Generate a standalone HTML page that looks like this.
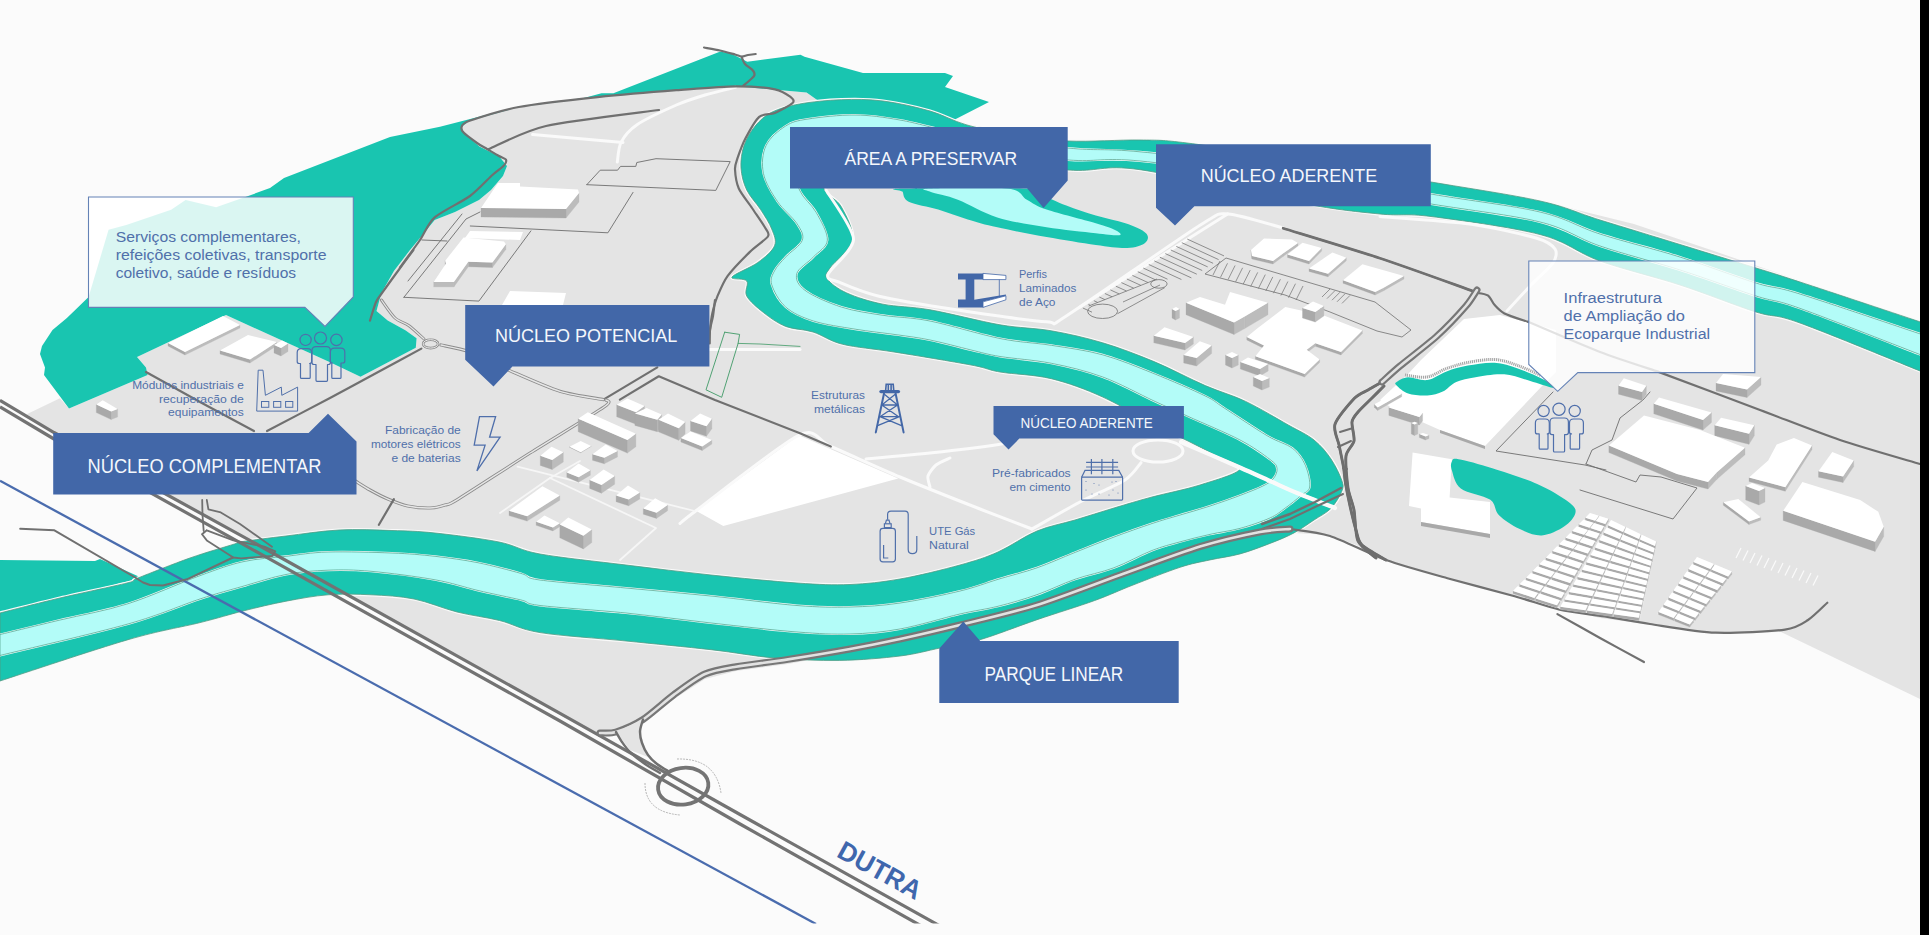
<!DOCTYPE html>
<html><head><meta charset="utf-8"><style>
html,body{margin:0;padding:0;background:#fbfbfb;overflow:hidden}
svg{display:block;font-family:"Liberation Sans",sans-serif}
</style></head><body>
<svg width="1929" height="935" viewBox="0 0 1929 935">
<defs><clipPath id="clipb"><rect x="0" y="0" width="1929" height="923.5"/></clipPath></defs>
<rect x="0" y="0" width="1929" height="935" fill="#fbfbfb"/>
<path d="M26.7,414.2 L59.9,398.2 L69,408.6 L147.6,375 L146,367.5 L137,357 L226,315 L330,362.3 L360.5,376.7 L415.8,347.8 L416.6,338.2 L405.4,330.2 L387.7,320.6 L376.5,311 L381.3,293.3 L394.1,270.8 L410,250 L420,238 L434.7,220 L455,212 L479,200 L491,190 L503,176 L507,166 L499.1,156.2 L479.4,146.4 L463.6,132.6 L461.7,126.7 L469.6,120.8 L518.8,107 L597.6,97.1 L676.4,90.2 L735.5,86.3 L778.4,89.9 L806.6,92.5 L818.6,101 L816,102 L870,108 L966,124 L1068,143 L1156,141 L1300,160 L1430,182 L1553,204 L1634,224 L1714,251 L1821,288 L1920,322 L1920,699 L1781,632 L1715,633 L1600,618 L1514.7,596.2 L1447.4,578.2 L1386,560 L1356,545 L1330,535 L1294,533 L1240,554 L1200,560 L1133,585 L1037,620 L979,636 L964,629 L900,643 L788,664 L736,671 L705,679 L674,699 L643,723 L616.5,734 L596,732.6 L560,712.5 L260,546 L54,432.5 Z" fill="#e4e4e4"/>
<path d="M69,408.6 L44,375 L45,367.5 L40,354 L42,346 L52.5,330 L66.9,318 L88.6,297.1 L108.6,229.7 L126.3,225 L171.2,209.7 L185.6,200 L216.1,207.3 L248.2,196 L270,188 L284,178 L390,137 L440,126.7 L518.8,106.5 L583.8,98 L601.5,93.2 L613.4,93.2 L719.7,51.8 L729.6,52.8 L747.3,61.7 L800.5,54.8 L804.5,56.7 L863,73 L945,73 L953,76 L945,87 L989,102 L950,122 L930,111 L883,101 L841,100 L818.6,101 L806.6,92.5 L778.4,89.9 L735.5,86.3 L676.4,90.2 L597.6,97.1 L518.8,107 L469.6,120.8 L461.7,126.7 L463.6,132.6 L479.4,146.4 L499.1,156.2 L507,166 L503,176 L491,190 L479,200 L455,212 L434.7,220 L420,238 L410,250 L394.1,270.8 L381.3,293.3 L376.5,311 L387.7,320.6 L405.4,330.2 L416.6,338.2 L415.8,347.8 L360.5,376.7 L330,362.3 L226,315 L137,357 L146,367.5 L147.6,375 Z" fill="#19c5b0"/>
<path d="M0,560 L95,561 L100,559 L142,578 L60,598 L0,613 Z" fill="#19c5b0"/>
<path d="M0,613 C10,610.5 38.8,603 60,598 C81.2,593 114,586.3 127,583 C140,579.7 127.5,582.2 138,578 C148.5,573.8 173.9,563.7 190,558 C206.1,552.3 225.7,546.8 234.5,544 C243.3,541.2 234.4,542.8 243,541.5 C251.6,540.2 270,537.9 286,536 C302,534.1 321.3,530.9 339,530 C356.7,529.1 376,530 392,530.5 C408,531 417.2,531.1 435,533 C452.8,534.9 481.5,538.5 499,542 C516.5,545.5 518.8,550.2 540,554 C561.2,557.8 597.5,561.5 626,565 C654.5,568.5 682.5,572 711,575 C739.5,578 773.8,581.4 797,583 C820.2,584.6 832.8,585.2 850,584.5 C867.2,583.8 881.7,582.2 900,579 C918.3,575.8 943.7,569.5 960,565 C976.3,560.5 985.2,557.7 998,552 C1010.8,546.3 1024.2,536.3 1037,531 C1049.8,525.7 1062.2,523.8 1075,520 C1087.8,516.2 1101.2,511.8 1114,508 C1126.8,504.2 1137.7,500.8 1152,497 C1166.3,493.2 1185.3,489.7 1200,485 C1214.7,480.3 1237.5,474 1240,469 C1242.5,464 1223.7,459.7 1215,455 C1206.3,450.3 1197.2,445.5 1188,441 C1178.8,436.5 1174.2,435.3 1160,428 C1145.8,420.7 1120.8,405.2 1102.7,397 C1084.6,388.8 1068.4,382.9 1051.3,378.7 C1034.2,374.5 1013.4,374.3 1000,372 C986.6,369.7 988.7,368.3 971,365 C953.3,361.7 915.4,355.4 894,352 C872.6,348.6 856.2,347.6 842.7,344.3 C829.2,341 822.5,335 813,332 C803.5,329 793.9,329.6 785.6,326.4 C777.3,323.1 769.9,317.6 763.4,312.5 C756.9,307.4 749.5,301.2 746.7,296 C743.9,290.8 749.2,284.2 746.7,281 C744.2,277.8 730.1,280.1 732,277 C733.9,273.9 750.7,267.7 757.8,262.5 C764.9,257.3 772.2,251.4 774.5,245.8 C776.8,240.2 774,235 771.7,229 C769.4,223 764.8,216.1 760.6,209.6 C756.4,203.1 750,196.9 746.7,190 C743.4,183.1 741.5,175.4 741,168 C740.5,160.6 741.7,152.6 744,145.6 C746.3,138.6 750.4,131.8 755,126.2 C759.6,120.7 764.3,116 771.7,112.3 C779.1,108.6 787.9,106.1 799.5,104 C811.1,101.9 827.4,100.2 841.3,99.7 C855.2,99.2 868.2,99.1 883,101 C897.8,102.9 916.2,107 930,111 C943.8,115 952.7,120.9 966,124.7 C979.3,128.5 993,131.3 1010,134 C1027,136.7 1046.3,140 1068,141 C1089.7,142 1120.2,139.7 1140,140 C1159.8,140.3 1160.3,139.7 1187,143 C1213.7,146.3 1259.3,153.5 1300,160 C1340.7,166.5 1391,175.2 1431,182 C1471,188.8 1511.8,194.7 1540,201 C1568.2,207.3 1576.7,212.8 1600,220 C1623.3,227.2 1654,236.5 1680,244.5 C1706,252.5 1736,261.8 1756,268 C1776,274.2 1771.8,272.8 1800,282 C1828.2,291.2 1904.2,316.6 1925,323.5 L1925,373 C1904.2,364.7 1828.2,333.2 1800,323 C1771.8,312.8 1776,318.3 1756,312 C1736,305.7 1706,293.5 1680,285 C1654,276.5 1623.3,269.4 1600,261 C1576.7,252.6 1568.2,241.9 1540,234.5 C1511.8,227.1 1457.7,219.9 1431,216.5 C1404.3,213.1 1401.8,216.2 1380,214 C1358.2,211.8 1340,210.4 1300,203 C1260,195.6 1178.7,175.2 1140,169.7 C1101.3,164.2 1098,172.4 1068,170 C1038,167.6 993,160 960,155 C927,150 891.7,141.7 870,140 C848.3,138.3 838.7,141.7 830,145 C821.3,148.3 818.9,152.5 818,160 C817.1,167.5 820.7,182.2 824.6,190 C828.5,197.8 836.7,198.4 841.3,206.8 C845.9,215.2 854.3,230 852.4,240.2 C850.5,250.4 834.2,261.5 830,268 C825.8,274.5 824.6,274.8 827.4,279 C830.2,283.2 837.5,288.8 846.8,293 C856.1,297.2 869.1,301.4 883,304.2 C896.9,307 910.5,306.4 930,309.8 C949.5,313.2 979.8,321.3 1000,324.8 C1020.2,328.3 1034.2,327.8 1051.3,330.8 C1068.4,333.8 1085.6,337.7 1102.7,342.8 C1119.8,347.9 1136.9,354.5 1154,361.6 C1171.1,368.7 1190,379 1205.3,385.6 C1220.6,392.2 1231.8,394.8 1245.6,401.4 C1259.4,408 1276.9,418.6 1288.3,425 C1299.7,431.4 1306.9,434.3 1314,440 C1321.1,445.7 1326.4,452.2 1331,459 C1335.6,465.8 1340,475.1 1341.8,480.5 C1343.6,485.9 1343.6,486.6 1341.8,491.2 C1340,495.8 1335.6,503.5 1331,508.3 C1326.4,513.1 1320.2,515.9 1314,520 C1307.8,524.1 1301.3,529 1294,532.9 C1286.7,536.8 1279,539.9 1270,543.4 C1261,546.9 1250,551.1 1240,553.9 C1230,556.6 1220,557.7 1210,559.9 C1200,562.1 1192.8,563.1 1180,567.3 C1167.2,571.5 1147.2,579.5 1133,585 C1118.8,590.5 1110.7,594.7 1094.7,600.5 C1078.7,606.3 1056.3,613.1 1037,619.7 C1017.7,626.3 995.2,635.3 979,640 C962.8,644.7 953.2,645.3 940,648 C926.8,650.7 916.8,653.9 900,656 C883.2,658.1 860.3,660.1 839.5,660.4 C818.7,660.7 796.4,659.8 775,658 C753.6,656.2 735.8,652.5 711,649.7 C686.2,646.9 654.5,643.9 626,641 C597.5,638.1 561.1,636 540,632.6 C518.9,629.2 513.3,623.9 499.5,620.5 C485.7,617.1 471.2,615.6 457,612 C442.8,608.4 428.3,601.9 414,599 C399.7,596.1 385.3,595.5 371,594.8 C356.7,594.1 342.2,593.7 328,594.8 C313.8,595.9 300.2,598.5 286,601.2 C271.8,603.9 257.3,607.4 243,611 C228.7,614.6 219.2,617.8 200,622.6 C180.8,627.4 161.3,630 128,639.7 C94.7,649.4 21.3,674.1 0,681 Z" fill="none" stroke="#fafafa" stroke-width="3.2"/>
<path d="M0,613 C10,610.5 38.8,603 60,598 C81.2,593 114,586.3 127,583 C140,579.7 127.5,582.2 138,578 C148.5,573.8 173.9,563.7 190,558 C206.1,552.3 225.7,546.8 234.5,544 C243.3,541.2 234.4,542.8 243,541.5 C251.6,540.2 270,537.9 286,536 C302,534.1 321.3,530.9 339,530 C356.7,529.1 376,530 392,530.5 C408,531 417.2,531.1 435,533 C452.8,534.9 481.5,538.5 499,542 C516.5,545.5 518.8,550.2 540,554 C561.2,557.8 597.5,561.5 626,565 C654.5,568.5 682.5,572 711,575 C739.5,578 773.8,581.4 797,583 C820.2,584.6 832.8,585.2 850,584.5 C867.2,583.8 881.7,582.2 900,579 C918.3,575.8 943.7,569.5 960,565 C976.3,560.5 985.2,557.7 998,552 C1010.8,546.3 1024.2,536.3 1037,531 C1049.8,525.7 1062.2,523.8 1075,520 C1087.8,516.2 1101.2,511.8 1114,508 C1126.8,504.2 1137.7,500.8 1152,497 C1166.3,493.2 1185.3,489.7 1200,485 C1214.7,480.3 1237.5,474 1240,469 C1242.5,464 1223.7,459.7 1215,455 C1206.3,450.3 1197.2,445.5 1188,441 C1178.8,436.5 1174.2,435.3 1160,428 C1145.8,420.7 1120.8,405.2 1102.7,397 C1084.6,388.8 1068.4,382.9 1051.3,378.7 C1034.2,374.5 1013.4,374.3 1000,372 C986.6,369.7 988.7,368.3 971,365 C953.3,361.7 915.4,355.4 894,352 C872.6,348.6 856.2,347.6 842.7,344.3 C829.2,341 822.5,335 813,332 C803.5,329 793.9,329.6 785.6,326.4 C777.3,323.1 769.9,317.6 763.4,312.5 C756.9,307.4 749.5,301.2 746.7,296 C743.9,290.8 749.2,284.2 746.7,281 C744.2,277.8 730.1,280.1 732,277 C733.9,273.9 750.7,267.7 757.8,262.5 C764.9,257.3 772.2,251.4 774.5,245.8 C776.8,240.2 774,235 771.7,229 C769.4,223 764.8,216.1 760.6,209.6 C756.4,203.1 750,196.9 746.7,190 C743.4,183.1 741.5,175.4 741,168 C740.5,160.6 741.7,152.6 744,145.6 C746.3,138.6 750.4,131.8 755,126.2 C759.6,120.7 764.3,116 771.7,112.3 C779.1,108.6 787.9,106.1 799.5,104 C811.1,101.9 827.4,100.2 841.3,99.7 C855.2,99.2 868.2,99.1 883,101 C897.8,102.9 916.2,107 930,111 C943.8,115 952.7,120.9 966,124.7 C979.3,128.5 993,131.3 1010,134 C1027,136.7 1046.3,140 1068,141 C1089.7,142 1120.2,139.7 1140,140 C1159.8,140.3 1160.3,139.7 1187,143 C1213.7,146.3 1259.3,153.5 1300,160 C1340.7,166.5 1391,175.2 1431,182 C1471,188.8 1511.8,194.7 1540,201 C1568.2,207.3 1576.7,212.8 1600,220 C1623.3,227.2 1654,236.5 1680,244.5 C1706,252.5 1736,261.8 1756,268 C1776,274.2 1771.8,272.8 1800,282 C1828.2,291.2 1904.2,316.6 1925,323.5 L1925,373 C1904.2,364.7 1828.2,333.2 1800,323 C1771.8,312.8 1776,318.3 1756,312 C1736,305.7 1706,293.5 1680,285 C1654,276.5 1623.3,269.4 1600,261 C1576.7,252.6 1568.2,241.9 1540,234.5 C1511.8,227.1 1457.7,219.9 1431,216.5 C1404.3,213.1 1401.8,216.2 1380,214 C1358.2,211.8 1340,210.4 1300,203 C1260,195.6 1178.7,175.2 1140,169.7 C1101.3,164.2 1098,172.4 1068,170 C1038,167.6 993,160 960,155 C927,150 891.7,141.7 870,140 C848.3,138.3 838.7,141.7 830,145 C821.3,148.3 818.9,152.5 818,160 C817.1,167.5 820.7,182.2 824.6,190 C828.5,197.8 836.7,198.4 841.3,206.8 C845.9,215.2 854.3,230 852.4,240.2 C850.5,250.4 834.2,261.5 830,268 C825.8,274.5 824.6,274.8 827.4,279 C830.2,283.2 837.5,288.8 846.8,293 C856.1,297.2 869.1,301.4 883,304.2 C896.9,307 910.5,306.4 930,309.8 C949.5,313.2 979.8,321.3 1000,324.8 C1020.2,328.3 1034.2,327.8 1051.3,330.8 C1068.4,333.8 1085.6,337.7 1102.7,342.8 C1119.8,347.9 1136.9,354.5 1154,361.6 C1171.1,368.7 1190,379 1205.3,385.6 C1220.6,392.2 1231.8,394.8 1245.6,401.4 C1259.4,408 1276.9,418.6 1288.3,425 C1299.7,431.4 1306.9,434.3 1314,440 C1321.1,445.7 1326.4,452.2 1331,459 C1335.6,465.8 1340,475.1 1341.8,480.5 C1343.6,485.9 1343.6,486.6 1341.8,491.2 C1340,495.8 1335.6,503.5 1331,508.3 C1326.4,513.1 1320.2,515.9 1314,520 C1307.8,524.1 1301.3,529 1294,532.9 C1286.7,536.8 1279,539.9 1270,543.4 C1261,546.9 1250,551.1 1240,553.9 C1230,556.6 1220,557.7 1210,559.9 C1200,562.1 1192.8,563.1 1180,567.3 C1167.2,571.5 1147.2,579.5 1133,585 C1118.8,590.5 1110.7,594.7 1094.7,600.5 C1078.7,606.3 1056.3,613.1 1037,619.7 C1017.7,626.3 995.2,635.3 979,640 C962.8,644.7 953.2,645.3 940,648 C926.8,650.7 916.8,653.9 900,656 C883.2,658.1 860.3,660.1 839.5,660.4 C818.7,660.7 796.4,659.8 775,658 C753.6,656.2 735.8,652.5 711,649.7 C686.2,646.9 654.5,643.9 626,641 C597.5,638.1 561.1,636 540,632.6 C518.9,629.2 513.3,623.9 499.5,620.5 C485.7,617.1 471.2,615.6 457,612 C442.8,608.4 428.3,601.9 414,599 C399.7,596.1 385.3,595.5 371,594.8 C356.7,594.1 342.2,593.7 328,594.8 C313.8,595.9 300.2,598.5 286,601.2 C271.8,603.9 257.3,607.4 243,611 C228.7,614.6 219.2,617.8 200,622.6 C180.8,627.4 161.3,630 128,639.7 C94.7,649.4 21.3,674.1 0,681 Z" fill="#19c5b0" stroke="#4f9c84" stroke-width="0.8"/>
<path d="M0,634.5 C10,632.1 38.7,625.1 60,620 C81.3,614.9 104.7,611.1 128,603.7 C151.3,596.3 180.8,582.6 200,575.6 C219.2,568.6 228.7,564.9 243,561.7 C257.3,558.5 271.8,557.9 286,556.3 C300.2,554.7 310.3,552.5 328,552 C345.7,551.5 374.2,552.3 392,553 C409.8,553.7 420.7,554.7 435,556.3 C449.3,557.9 463.7,559.9 478,562.7 C492.3,565.6 510.7,570.5 521,573.4 C531.3,576.3 522.5,577.6 540,580 C557.5,582.4 597.5,585.3 626,588 C654.5,590.7 682.5,593.1 711,596 C739.5,598.9 773.8,603.7 797,605.5 C820.2,607.3 832.8,607.4 850,607 C867.2,606.6 881.7,605.7 900,603 C918.3,600.3 943.7,595 960,591 C976.3,587 985.2,583.2 998,579.3 C1010.8,575.4 1024.2,572.3 1037,567.8 C1049.8,563.3 1062.2,557.5 1075,552.4 C1087.8,547.3 1101.2,541.8 1114,537 C1126.8,532.2 1141,527.2 1152,523.5 C1163,519.8 1170.3,517.9 1180,515 C1189.7,512.1 1200,509.3 1210,506 C1220,502.7 1231.3,498.7 1240,495.4 C1248.7,492.1 1256.5,489.1 1262,486.4 C1267.5,483.7 1270.5,482 1273,479 C1275.5,476 1277.5,471.8 1277,468.5 C1276.5,465.2 1276.2,464.2 1270,459.5 C1263.8,454.8 1253.7,447.2 1240,440 C1226.3,432.8 1202.3,422.9 1188,416.4 C1173.7,409.9 1168.2,407.6 1154,401 C1139.8,394.4 1119.8,383.3 1102.7,377 C1085.6,370.7 1068.4,366.7 1051.3,363.3 C1034.2,359.9 1013.4,358.7 1000,356.5 C986.6,354.3 982.7,352.8 971,350 C959.3,347.2 942.3,342.5 930,340 C917.7,337.5 909.5,336.6 897,334.8 C884.5,333 869.1,331.5 855.2,329.2 C841.3,326.9 825,324.7 813.4,321 C801.8,317.3 792.5,313.1 785.6,307 C778.7,300.9 773.6,290.7 771.7,284.7 C769.9,278.7 772.2,275.4 774.5,270.8 C776.8,266.2 781,262.1 785.6,257 C790.2,251.9 800.4,245.8 802.3,240.2 C804.2,234.6 801,230 796.8,223.5 C792.6,217 782.9,209.7 777.3,201.3 C771.7,193 765.3,182.7 763.4,173.4 C761.5,164.1 762.3,153.5 766,145.6 C769.7,137.7 778.6,130.4 785.6,126 C792.6,121.6 796.4,120.8 808,119 C819.6,117.2 839.7,114.8 855,115 C870.3,115.2 882.5,117 900,120 C917.5,123 932,128.3 960,133 C988,137.7 1038,144.9 1068,148 C1098,151.1 1101.3,148.1 1140,151.8 C1178.7,155.5 1251.5,163 1300,170 C1348.5,177 1391,187 1431,194 C1471,201 1511.8,205.3 1540,212 C1568.2,218.7 1576.7,226.5 1600,234 C1623.3,241.5 1654,248.8 1680,257 C1706,265.2 1736,276.8 1756,283 C1776,289.2 1771.8,285.2 1800,294 C1828.2,302.8 1904.2,328.6 1925,335.5 L1925,356.5 C1904.2,348.5 1828.2,318.5 1800,308.4 C1771.8,298.3 1776,302.4 1756,296 C1736,289.6 1706,278.3 1680,270 C1654,261.7 1623.3,254 1600,246 C1576.7,238 1568.2,229 1540,222 C1511.8,215 1471,210.5 1431,204 C1391,197.5 1348.5,190.2 1300,183 C1251.5,175.8 1178.7,164.8 1140,161 C1101.3,157.2 1098,162.2 1068,160 C1038,157.8 991.3,152.2 960,148 C928.7,143.8 903.3,137.7 880,135 C856.7,132.3 833.3,131.2 820,132 C806.7,132.8 804.3,135.4 800,140 C795.7,144.6 794.1,151.2 794,159.5 C793.9,167.8 795.8,181.2 799.5,190 C803.2,198.8 811.6,204 816.2,212.4 C820.9,220.8 827.9,232.8 827.4,240.2 C826.9,247.6 818.5,251.4 813.4,257 C808.3,262.6 798.2,268.1 796.8,273.6 C795.4,279.2 797.6,284.7 805,290.3 C812.4,295.9 828.3,302.8 841.3,307 C854.3,311.2 868.2,313 883,315.3 C897.8,317.6 910.5,317.1 930,321 C949.5,324.9 979.8,334.4 1000,338.5 C1020.2,342.6 1034.2,342.6 1051.3,345.3 C1068.4,348 1085.6,350.1 1102.7,354.8 C1119.8,359.5 1137,366.8 1154,373.6 C1171,380.4 1193.3,390.1 1205,395.8 C1216.7,401.5 1213.7,401.2 1224,407.8 C1234.3,414.4 1255.6,428.8 1267,435.6 C1278.4,442.4 1286.2,443.4 1292.6,448.4 C1299,453.4 1302.7,459.2 1305.5,465.6 C1308.3,472 1310.5,482 1309.7,487 C1309,492 1305.1,491.9 1301,495.5 C1296.9,499.1 1290.2,504.6 1285,508.3 C1279.8,512 1277.5,514.6 1270,518 C1262.5,521.4 1250,525.7 1240,528.4 C1230,531.1 1220,532.1 1210,534.4 C1200,536.6 1189.7,539.2 1180,541.9 C1170.3,544.6 1163,546.2 1152,550.5 C1141,554.8 1126.8,563 1114,567.8 C1101.2,572.6 1087.8,574.8 1075,579.3 C1062.2,583.8 1049.8,590.2 1037,594.7 C1024.2,599.2 1010.8,603.1 998,606.3 C985.2,609.5 976.3,610.2 960,614 C943.7,617.8 918.3,625.7 900,629 C881.7,632.3 867.2,633.5 850,634 C832.8,634.5 820.2,633.8 797,632 C773.8,630.2 739.5,626.2 711,623 C682.5,619.8 654.5,615.9 626,613 C597.5,610.1 557.5,607.7 540,605.5 C522.5,603.3 531.3,602.5 521,600 C510.7,597.5 492.3,593.9 478,590.5 C463.7,587.1 452.8,583 435,579.8 C417.2,576.6 388.8,572.9 371,571.3 C353.2,569.7 342.2,569.7 328,570.2 C313.8,570.7 300.2,571.8 286,574.5 C271.8,577.2 257.3,582.2 243,586.3 C228.7,590.4 219.2,592.7 200,599 C180.8,605.3 161.3,614.6 128,624 C94.7,633.4 21.3,650.2 0,655.5 Z" fill="none" stroke="#f4fffe" stroke-width="2"/>
<path d="M0,634.5 C10,632.1 38.7,625.1 60,620 C81.3,614.9 104.7,611.1 128,603.7 C151.3,596.3 180.8,582.6 200,575.6 C219.2,568.6 228.7,564.9 243,561.7 C257.3,558.5 271.8,557.9 286,556.3 C300.2,554.7 310.3,552.5 328,552 C345.7,551.5 374.2,552.3 392,553 C409.8,553.7 420.7,554.7 435,556.3 C449.3,557.9 463.7,559.9 478,562.7 C492.3,565.6 510.7,570.5 521,573.4 C531.3,576.3 522.5,577.6 540,580 C557.5,582.4 597.5,585.3 626,588 C654.5,590.7 682.5,593.1 711,596 C739.5,598.9 773.8,603.7 797,605.5 C820.2,607.3 832.8,607.4 850,607 C867.2,606.6 881.7,605.7 900,603 C918.3,600.3 943.7,595 960,591 C976.3,587 985.2,583.2 998,579.3 C1010.8,575.4 1024.2,572.3 1037,567.8 C1049.8,563.3 1062.2,557.5 1075,552.4 C1087.8,547.3 1101.2,541.8 1114,537 C1126.8,532.2 1141,527.2 1152,523.5 C1163,519.8 1170.3,517.9 1180,515 C1189.7,512.1 1200,509.3 1210,506 C1220,502.7 1231.3,498.7 1240,495.4 C1248.7,492.1 1256.5,489.1 1262,486.4 C1267.5,483.7 1270.5,482 1273,479 C1275.5,476 1277.5,471.8 1277,468.5 C1276.5,465.2 1276.2,464.2 1270,459.5 C1263.8,454.8 1253.7,447.2 1240,440 C1226.3,432.8 1202.3,422.9 1188,416.4 C1173.7,409.9 1168.2,407.6 1154,401 C1139.8,394.4 1119.8,383.3 1102.7,377 C1085.6,370.7 1068.4,366.7 1051.3,363.3 C1034.2,359.9 1013.4,358.7 1000,356.5 C986.6,354.3 982.7,352.8 971,350 C959.3,347.2 942.3,342.5 930,340 C917.7,337.5 909.5,336.6 897,334.8 C884.5,333 869.1,331.5 855.2,329.2 C841.3,326.9 825,324.7 813.4,321 C801.8,317.3 792.5,313.1 785.6,307 C778.7,300.9 773.6,290.7 771.7,284.7 C769.9,278.7 772.2,275.4 774.5,270.8 C776.8,266.2 781,262.1 785.6,257 C790.2,251.9 800.4,245.8 802.3,240.2 C804.2,234.6 801,230 796.8,223.5 C792.6,217 782.9,209.7 777.3,201.3 C771.7,193 765.3,182.7 763.4,173.4 C761.5,164.1 762.3,153.5 766,145.6 C769.7,137.7 778.6,130.4 785.6,126 C792.6,121.6 796.4,120.8 808,119 C819.6,117.2 839.7,114.8 855,115 C870.3,115.2 882.5,117 900,120 C917.5,123 932,128.3 960,133 C988,137.7 1038,144.9 1068,148 C1098,151.1 1101.3,148.1 1140,151.8 C1178.7,155.5 1251.5,163 1300,170 C1348.5,177 1391,187 1431,194 C1471,201 1511.8,205.3 1540,212 C1568.2,218.7 1576.7,226.5 1600,234 C1623.3,241.5 1654,248.8 1680,257 C1706,265.2 1736,276.8 1756,283 C1776,289.2 1771.8,285.2 1800,294 C1828.2,302.8 1904.2,328.6 1925,335.5 L1925,356.5 C1904.2,348.5 1828.2,318.5 1800,308.4 C1771.8,298.3 1776,302.4 1756,296 C1736,289.6 1706,278.3 1680,270 C1654,261.7 1623.3,254 1600,246 C1576.7,238 1568.2,229 1540,222 C1511.8,215 1471,210.5 1431,204 C1391,197.5 1348.5,190.2 1300,183 C1251.5,175.8 1178.7,164.8 1140,161 C1101.3,157.2 1098,162.2 1068,160 C1038,157.8 991.3,152.2 960,148 C928.7,143.8 903.3,137.7 880,135 C856.7,132.3 833.3,131.2 820,132 C806.7,132.8 804.3,135.4 800,140 C795.7,144.6 794.1,151.2 794,159.5 C793.9,167.8 795.8,181.2 799.5,190 C803.2,198.8 811.6,204 816.2,212.4 C820.9,220.8 827.9,232.8 827.4,240.2 C826.9,247.6 818.5,251.4 813.4,257 C808.3,262.6 798.2,268.1 796.8,273.6 C795.4,279.2 797.6,284.7 805,290.3 C812.4,295.9 828.3,302.8 841.3,307 C854.3,311.2 868.2,313 883,315.3 C897.8,317.6 910.5,317.1 930,321 C949.5,324.9 979.8,334.4 1000,338.5 C1020.2,342.6 1034.2,342.6 1051.3,345.3 C1068.4,348 1085.6,350.1 1102.7,354.8 C1119.8,359.5 1137,366.8 1154,373.6 C1171,380.4 1193.3,390.1 1205,395.8 C1216.7,401.5 1213.7,401.2 1224,407.8 C1234.3,414.4 1255.6,428.8 1267,435.6 C1278.4,442.4 1286.2,443.4 1292.6,448.4 C1299,453.4 1302.7,459.2 1305.5,465.6 C1308.3,472 1310.5,482 1309.7,487 C1309,492 1305.1,491.9 1301,495.5 C1296.9,499.1 1290.2,504.6 1285,508.3 C1279.8,512 1277.5,514.6 1270,518 C1262.5,521.4 1250,525.7 1240,528.4 C1230,531.1 1220,532.1 1210,534.4 C1200,536.6 1189.7,539.2 1180,541.9 C1170.3,544.6 1163,546.2 1152,550.5 C1141,554.8 1126.8,563 1114,567.8 C1101.2,572.6 1087.8,574.8 1075,579.3 C1062.2,583.8 1049.8,590.2 1037,594.7 C1024.2,599.2 1010.8,603.1 998,606.3 C985.2,609.5 976.3,610.2 960,614 C943.7,617.8 918.3,625.7 900,629 C881.7,632.3 867.2,633.5 850,634 C832.8,634.5 820.2,633.8 797,632 C773.8,630.2 739.5,626.2 711,623 C682.5,619.8 654.5,615.9 626,613 C597.5,610.1 557.5,607.7 540,605.5 C522.5,603.3 531.3,602.5 521,600 C510.7,597.5 492.3,593.9 478,590.5 C463.7,587.1 452.8,583 435,579.8 C417.2,576.6 388.8,572.9 371,571.3 C353.2,569.7 342.2,569.7 328,570.2 C313.8,570.7 300.2,571.8 286,574.5 C271.8,577.2 257.3,582.2 243,586.3 C228.7,590.4 219.2,592.7 200,599 C180.8,605.3 161.3,614.6 128,624 C94.7,633.4 21.3,650.2 0,655.5 Z" fill="#b3fcf8" stroke="#4f9c84" stroke-width="0.7"/>
<g clip-path="url(#clipb)">
<path d="M0,400.3 L54,432.5 L260,546 L560,713.4 L740,814.5 L940,926" stroke="#737373" stroke-width="3.2" fill="none"/>
<path d="M0,407 L54,439 L260,553.7 L560,721 L740,824 L925,928" stroke="#737373" stroke-width="3.2" fill="none"/>
<path d="M0,480.8 L816,924" stroke="#4a6cae" stroke-width="2.3" fill="none"/>
</g>
<path d="M902.7,188.5 C881.7,189.1 901.7,189.6 902.7,191.8 C903.7,194 902.8,198.7 908.7,201.7 C914.6,204.7 928.4,206.6 938.2,209.6 C948.1,212.6 957.9,216.4 967.8,219.4 C977.6,222.4 984.2,224.4 997.3,227.3 C1010.4,230.2 1030.2,234.2 1046.6,237.1 C1063,240 1082.3,243.2 1095.8,245 C1109.2,246.8 1119.1,248.3 1127.3,248 C1135.5,247.7 1141.9,245.5 1145,243 C1148.1,240.5 1149.3,236.5 1146,233.2 C1142.7,229.9 1133.8,226.2 1125.4,223.3 C1117,220.4 1105.7,218.4 1095.8,215.5 C1085.9,212.6 1075.6,209.2 1066.3,205.6 C1057,202 1046.2,196.8 1040,194 C1033.8,191.2 1051.7,189.4 1028.8,188.5 C1005.9,187.6 923.7,187.9 902.7,188.5 Z" fill="#19c5b0"/>
<path d="M930,188.5 C917.2,189.1 925.6,189.9 930.3,191.8 C934.9,193.7 946.7,195.4 957.9,199.7 C969.1,204 982.5,212.8 997.3,217.4 C1012.1,222 1030.2,224.7 1046.6,227.3 C1063,229.9 1083.7,231.9 1095.8,233.2 C1107.9,234.5 1116.1,235.7 1119.4,235.2 C1122.7,234.7 1119.4,232.2 1115.5,230.2 C1111.6,228.2 1107.3,226.7 1095.8,223.3 C1084.3,219.9 1058.1,213.5 1046.6,209.6 C1035.1,205.7 1033.5,203.2 1026.9,199.7 C1020.3,196.2 1023.4,190.4 1007.2,188.5 C991.1,186.6 942.8,187.9 930,188.5 Z" fill="#b3fcf8"/>
<path d="M696,510.7 L798.7,435.3 L898.2,478.6 L723.3,526 Z" fill="#ffffff"/>
<path d="M1464,319 L1500,315 L1530,323 L1556,330 L1556,372 L1543,385 L1485,446 L1440,430 L1395,410 L1380,400 L1408,374 L1421,360 Z" fill="#ffffff"/>
<path d="M1412.6,452.5 L1451.9,459.2 L1449.6,497.4 L1490,501.9 L1490,534 L1421,522 L1421,508.6 L1409,506 Z" fill="#ffffff"/>
<path d="M1405,375 C1408.7,375.3 1420.1,378.1 1427,377 C1433.9,375.9 1439.8,370.9 1446.6,368.5 C1453.4,366.1 1459.8,364 1467.8,362.5 C1475.8,361 1486.4,359 1494.7,359.5 C1503,360 1510.1,362.8 1517.8,365.5 C1525.5,368.2 1537.1,373.8 1541,375.5" stroke="#a8a8a8" stroke-width="3" fill="none" stroke-dasharray="1.2,0.8"/>
<path d="M1396.6,382 C1398.5,380.6 1402.9,377.5 1408,377.2 C1413.1,376.9 1421,381 1427.4,380 C1433.8,379 1439.9,373.8 1446.6,371.4 C1453.3,369 1459.8,367 1467.8,365.6 C1475.8,364.2 1486.4,362.3 1494.7,362.8 C1503,363.3 1510.1,365.9 1517.8,368.5 C1525.5,371.1 1535.2,375.4 1541,378.2 C1546.8,380.9 1550.6,383.4 1552.5,385 C1554.4,386.6 1555.7,388.3 1552.5,387.8 C1549.3,387.3 1541.2,384.2 1533.2,382 C1525.2,379.8 1513.9,375.1 1504.3,374.3 C1494.7,373.5 1483.5,375.9 1475.5,377.2 C1467.5,378.5 1461.7,379.6 1456.2,382 C1450.8,384.4 1447.6,389.4 1442.8,391.6 C1438,393.9 1433.2,395.2 1427.4,395.5 C1421.6,395.8 1413.2,395.2 1408.1,393.5 C1403,391.8 1398.5,387.4 1396.6,385.5 C1394.7,383.6 1394.7,383.4 1396.6,382 Z" fill="#19c5b0"/>
<path d="M1451.9,461.4 C1453,459.5 1451.9,458.1 1458.6,459.2 C1465.3,460.3 1479.2,464.1 1492.3,468.2 C1505.4,472.3 1524.5,478.3 1537.2,483.9 C1549.9,489.5 1562.2,497 1568.6,501.9 C1575,506.8 1576.2,509 1575.4,513.1 C1574.7,517.2 1569.7,522.9 1564.1,526.6 C1558.5,530.3 1549.2,535.1 1541.7,535.5 C1534.2,535.9 1526.3,532.2 1519.2,528.8 C1512.1,525.4 1503.9,520.2 1499,515.3 C1494.1,510.4 1496.4,504.1 1490,499.6 C1483.6,495.1 1467.1,493.3 1460.8,488.4 C1454.5,483.5 1453.4,474.9 1451.9,470.4 C1450.4,465.9 1450.8,463.3 1451.9,461.4 Z" fill="#19c5b0"/>
<path d="M1440,430 L1485,446 L1485,449 L1440,433 Z M1421,522 L1490,534 L1490,538 L1421,526 Z" fill="#a9a9a9"/>
<path d="M735.5,87.3 C731.4,88.3 712.9,92.6 705,95 C697.1,97.4 685.5,101 676.4,105 C667.3,109 644.4,119.7 637,124.7 C629.6,129.7 623.6,137.4 621,142.4 C618.4,147.4 617.8,159.4 617.3,162" stroke="#fafafa" stroke-width="3" fill="none" stroke-linecap="round" stroke-linejoin="round"/>
<path d="M532.6,134.6 L623,142.4" stroke="#fafafa" stroke-width="3" fill="none" stroke-linecap="round" stroke-linejoin="round"/>
<path d="M826,190 C829.7,196.5 853.2,227.7 853.5,239 C853.8,250.3 829.8,268.8 828,274.6 C826.2,280.4 832.9,279.5 839.7,282.4 C846.5,285.3 863.2,292.5 879,296.2 C894.8,299.9 935.7,306.6 958,310 C980.3,313.4 1032.2,321 1046.6,321.8 C1061,322.6 1045.8,328.9 1066.3,316 C1086.8,303.1 1178.4,238.9 1200,225.3 C1221.6,211.7 1216.9,213.5 1228,213.9 C1239.1,214.3 1275.7,226.1 1283,228" stroke="#fafafa" stroke-width="3" fill="none" stroke-linecap="round" stroke-linejoin="round"/>
<path d="M1080,307 L1227.6,213.9" stroke="#fafafa" stroke-width="3" fill="none" stroke-linecap="round" stroke-linejoin="round"/>
<path d="M680,523.5 C682.1,521.8 680.2,522.5 696,510.7 C711.8,498.9 780.7,443.9 798.7,435.3 C816.7,426.7 817.3,440.9 830.8,446.5 C844.3,452.1 880.1,468.7 900,477 C919.9,485.3 962.4,502.1 980,509 C997.6,515.9 1025.1,526.3 1032,529" stroke="#fafafa" stroke-width="3" fill="none" stroke-linecap="round" stroke-linejoin="round"/>
<path d="M866,459 C874.8,458.2 914.3,454.7 932,452.8 C949.7,450.9 988.2,446.1 998.6,444.5 C1009,442.9 1008.5,441.5 1010,441" stroke="#fafafa" stroke-width="3" fill="none" stroke-linecap="round" stroke-linejoin="round"/>
<path d="M930,487 C929.7,485.5 927.2,478.9 928,476 C928.8,473.1 933.1,467.4 936,465 C938.9,462.6 948.1,458.9 950,458" stroke="#fafafa" stroke-width="3" fill="none" stroke-linecap="round" stroke-linejoin="round"/>
<path d="M1032,529 C1038.4,525.4 1067.6,508.5 1080,502 C1092.4,495.5 1116.9,485.2 1125,480 C1133.1,474.8 1138.9,465 1141,462.7" stroke="#fafafa" stroke-width="3" fill="none" stroke-linecap="round" stroke-linejoin="round"/>
<path d="M1181,442 C1189,445.5 1229.1,462.8 1241,468 C1252.9,473.2 1262.5,477.7 1270,481 C1277.5,484.3 1288.3,489.4 1297,493 C1305.7,496.6 1329.9,506 1335,508" stroke="#fafafa" stroke-width="3" fill="none" stroke-linecap="round" stroke-linejoin="round"/>
<path d="M1380,216.5 C1392,217.5 1449.2,221.1 1470,224 C1490.8,226.9 1524.7,234.7 1536,238 C1547.3,241.3 1552.7,245.7 1555,249 C1557.3,252.3 1556.1,258.3 1553,263 C1549.9,267.7 1538.1,277.6 1532,284 C1525.9,290.4 1510.3,307.4 1507,311" stroke="#fafafa" stroke-width="3" fill="none" stroke-linecap="round" stroke-linejoin="round"/>
<path d="M709.7,349.4 L800,349.4" stroke="#fafafa" stroke-width="3" fill="none" stroke-linecap="round" stroke-linejoin="round"/>
<path d="M500,513 L550,478 L656,528 L620,560" stroke="#f6f6f6" stroke-width="1.8" fill="none" stroke-linecap="round" stroke-linejoin="round"/>
<path d="M517.5,466.6 L694.6,511" stroke="#f6f6f6" stroke-width="1.8" fill="none" stroke-linecap="round" stroke-linejoin="round"/>
<path d="M550,478 L580,461" stroke="#f6f6f6" stroke-width="1.8" fill="none" stroke-linecap="round" stroke-linejoin="round"/>
<path d="M1181,442 C1189,445.5 1229.1,462.8 1241,468 C1252.9,473.2 1262.5,477.7 1270,481 C1277.5,484.3 1288.3,489.4 1297,493 C1305.7,496.6 1329.9,506 1335,508" stroke="#fafafa" stroke-width="4.2" fill="none" stroke-linecap="round" stroke-linejoin="round"/>
<ellipse cx="1158" cy="451" rx="25" ry="11" fill="none" stroke="#fafafa" stroke-width="3"/>
<path d="M470.3,226 L607.9,232.8 L633,192.4" stroke="#6d6d6d" stroke-width="0.9" fill="none" stroke-linecap="round" stroke-linejoin="round"/>
<path d="M586.8,184.7 L600.2,170.2 L617.6,170.2 L620.5,166.4 L635.8,166.4 L636.8,162.5 L656,158.7 L730.2,161.6 L715.8,190.4 L586.8,184.7" stroke="#6d6d6d" stroke-width="0.9" fill="none" stroke-linecap="round" stroke-linejoin="round"/>
<path d="M403.9,297.3 L478.9,301.1 L530.9,230.9" stroke="#6d6d6d" stroke-width="0.9" fill="none" stroke-linecap="round" stroke-linejoin="round"/>
<path d="M403.9,297.3 L466,219 L480,212" stroke="#6d6d6d" stroke-width="0.9" fill="none" stroke-linecap="round" stroke-linejoin="round"/>
<path d="M408,281 L462,214" stroke="#6d6d6d" stroke-width="0.9" fill="none" stroke-linecap="round" stroke-linejoin="round"/>
<path d="M422,240 L447,241" stroke="#6d6d6d" stroke-width="0.9" fill="none" stroke-linecap="round" stroke-linejoin="round"/>
<path d="M1586,464 L1636,482 L1640,475 L1661,477 L1697,488 L1673,519 L1580,490" stroke="#6d6d6d" stroke-width="0.9" fill="none" stroke-linecap="round" stroke-linejoin="round"/>
<path d="M1586,464 L1592,450 L1612,440 L1620,418 L1643,400 L1650,392" stroke="#6d6d6d" stroke-width="0.9" fill="none" stroke-linecap="round" stroke-linejoin="round"/>
<path d="M1553,392 L1496,451 L1585,465 L1606,470" stroke="#6d6d6d" stroke-width="0.9" fill="none" stroke-linecap="round" stroke-linejoin="round"/>
<path d="M724.7,332.2 L739.6,334.4 L738.1,343.4 L721.7,397.3 L706,389.8 L724.7,332.2" stroke="#3f9a66" stroke-width="0.9" fill="none" stroke-linecap="round" stroke-linejoin="round"/>
<path d="M738.1,343.4 L760,344 L800,346.4" stroke="#3f9a66" stroke-width="0.8" fill="none" stroke-linecap="round" stroke-linejoin="round"/>
<path d="M400,267.4 C402.7,263.7 415.4,246.7 420,240 C424.6,233.3 428,223.3 434.7,217.4 C441.4,211.5 462.3,201.7 470,196 C477.7,190.3 487.9,179.1 492.4,175 C496.9,170.9 502.2,167.5 504,165.4 C505.8,163.3 506.6,160.9 505.9,159.6 C505.2,158.3 501.5,157.4 499,156 C496.5,154.6 489.9,150.7 487,149 C484.1,147.3 480.1,145.2 477,143 C473.9,140.8 465.6,134.8 463.6,132.6 C461.6,130.4 460.9,128.3 461.7,126.7 C462.5,125.1 462,123.4 469.6,120.8 C477.2,118.2 501.7,110.2 518.8,107 C535.9,103.8 576.6,99.3 597.6,97.1 C618.6,94.9 658,91.6 676.4,90.2 C694.8,88.8 722.4,86.4 735.5,86.3 C748.6,86.2 767.5,87.9 774.9,89.3 C782.3,90.7 788.3,95.3 790.7,97.1 C793.1,98.9 794.7,100.9 792.6,103 C790.5,105.1 779.5,111.1 775,112.9 C770.5,114.7 763.1,113.4 759.2,116.8 C755.3,120.2 748.3,133 745.4,138.5 C742.5,144 738.9,154.1 737.5,158.2 C736.1,162.3 734.8,165.3 735,169.3 C735.2,173.3 736.5,183.3 738.8,188.5 C741.1,193.7 748.5,202.7 752,208 C755.5,213.3 763.2,224.2 765.3,228 C767.4,231.8 770,233.3 767.9,236.5 C765.8,239.7 755.3,246.6 749.9,251.9 C744.5,257.2 732,270 727.7,275.9 C723.4,281.8 719.5,291.4 717.4,296.4 C715.3,301.4 713.3,309 712.3,313.5 C711.3,318 710.4,326.1 710,330 C709.6,333.9 709.1,341.3 709,343" stroke="#707070" stroke-width="2.2" fill="none" stroke-linecap="round" stroke-linejoin="round"/>
<path d="M741.6,57 C742.1,57.9 743.5,62.2 745,64 C746.5,65.8 751.4,68.7 752.7,70.2 C754,71.7 754.8,74.1 754.4,75.4 C754,76.7 751.5,78.6 750,80 C748.5,81.4 744.2,84.9 743.3,85.6" stroke="#707070" stroke-width="2.2" fill="none" stroke-linecap="round" stroke-linejoin="round"/>
<path d="M704,47.5 C706.1,47.9 715.9,49.6 720,50.5 C724.1,51.4 732.1,53.7 735,54.5 C737.9,55.3 739.9,56.4 741.6,56.5 C743.3,56.6 746.1,55.3 748,55 C749.9,54.7 754.7,54.1 755.7,54" stroke="#707070" stroke-width="2.2" fill="none" stroke-linecap="round" stroke-linejoin="round"/>
<path d="M489,149 C496.6,145.9 523.3,131.2 546,126 C568.7,120.8 643.9,112.1 659,110" stroke="#707070" stroke-width="2.2" fill="none" stroke-linecap="round" stroke-linejoin="round"/>
<path d="M146,372 C153.2,376 185.6,394.1 200,402 C214.4,409.9 246.8,427.1 254,431" stroke="#707070" stroke-width="2.2" fill="none" stroke-linecap="round" stroke-linejoin="round"/>
<path d="M267,431 C275.4,426.6 314.9,406 330,398 C345.1,390 367.8,377.6 380,371 C392.2,364.4 415.9,351.6 421.4,348.6" stroke="#707070" stroke-width="2.2" fill="none" stroke-linecap="round" stroke-linejoin="round"/>
<path d="M413.4,250 C410.9,253.3 399.1,269.4 395,275 C390.9,280.6 385.5,288.1 383,291.7 C380.5,295.3 377.7,298.1 376,302 C374.3,305.9 370.8,318.1 370,320.6" stroke="#707070" stroke-width="2.2" fill="none" stroke-linecap="round" stroke-linejoin="round"/>
<path d="M603.4,399.6 L657.3,367.4" stroke="#707070" stroke-width="2.2" fill="none" stroke-linecap="round" stroke-linejoin="round"/>
<path d="M715,300 C714.7,302.1 713.7,312 713,316 C712.3,320 710.4,326.3 710,330 C709.6,333.7 709.7,341.6 709.7,343.4" stroke="#707070" stroke-width="2.2" fill="none" stroke-linecap="round" stroke-linejoin="round"/>
<path d="M1283,228 C1295.9,232 1354.5,249.6 1380,258 C1405.5,266.4 1461.4,286.8 1473.9,291.2" stroke="#707070" stroke-width="2.2" fill="none" stroke-linecap="round" stroke-linejoin="round"/>
<path d="M1283,228.5 C1295.9,232.5 1354.5,250.1 1380,258.5 C1405.5,266.9 1461.4,287.3 1473.9,291.7" stroke="#707070" stroke-width="2.2" fill="none" stroke-linecap="round" stroke-linejoin="round"/>
<path d="M1382,382 C1380.1,383.1 1371.7,387.8 1368,390 C1364.3,392.2 1358.6,393.9 1354.2,398.5 C1349.8,403.1 1337,417.9 1335,424.2 C1333,430.5 1338.1,439.9 1339.2,445.6 C1340.3,451.3 1342.6,461.9 1343.5,467 C1344.4,472.1 1344.7,479 1345.6,484.1 C1346.5,489.2 1348.5,499.2 1349.9,505.5 C1351.3,511.8 1354.7,525.9 1356.3,531.2 C1357.9,536.5 1358,541.2 1362,545 C1366,548.8 1382.8,558 1386,560" stroke="#707070" stroke-width="2.2" fill="none" stroke-linecap="round" stroke-linejoin="round"/>
<path d="M1384,386 C1382.4,387.6 1375.5,394.5 1372,398 C1368.5,401.5 1360.7,408.8 1358,412 C1355.3,415.2 1352.5,418.1 1352,422 C1351.5,425.9 1354.8,436.5 1354,441 C1353.2,445.5 1346.8,449.7 1346,456 C1345.2,462.3 1346.9,480.8 1348,488 C1349.1,495.2 1352.7,502.9 1354,510 C1355.3,517.1 1355.1,534.6 1358,541 C1360.9,547.4 1373.6,555.7 1376,558" stroke="#707070" stroke-width="2.2" fill="none" stroke-linecap="round" stroke-linejoin="round"/>
<path d="M1475.2,292.6 C1476.9,293 1485.2,293.7 1487.8,295.4 C1490.4,297.1 1492.5,302.7 1494.7,305.1 C1496.9,307.5 1500,311.2 1504.4,313.4 C1508.8,315.6 1524.9,320.7 1528,321.8" stroke="#707070" stroke-width="2.2" fill="none" stroke-linecap="round" stroke-linejoin="round"/>
<path d="M1657.8,371.6 C1671.4,376.7 1735.7,400.9 1760,410 C1784.3,419.1 1818.7,432.8 1840,440 C1861.3,447.2 1909.3,460.8 1920,464" stroke="#707070" stroke-width="2.2" fill="none" stroke-linecap="round" stroke-linejoin="round"/>
<path d="M1528,321.8 C1537.6,325.8 1582.7,345.4 1600,352 C1617.3,358.6 1650.1,369 1657.8,371.6" stroke="#707070" stroke-width="2.2" fill="none" stroke-linecap="round" stroke-linejoin="round"/>
<path d="M1290,529 C1295.3,529.9 1317.2,531.9 1330,536 C1342.8,540.1 1370.3,554.4 1386,560 C1401.7,565.6 1430.2,573.4 1447.4,578.2 C1464.6,583 1499.7,592 1514.7,596.2 C1529.7,600.4 1547.7,607 1559.7,609.7 C1571.7,612.4 1592.6,614.5 1604.6,616.4 C1616.6,618.3 1635.2,621.8 1650,624 C1664.8,626.2 1697.6,632 1715.6,632.7 C1733.6,633.4 1772.7,631.3 1785,629.6 C1797.3,627.9 1802.4,623.6 1808,620 C1813.6,616.4 1824.7,605 1827.3,602.7" stroke="#707070" stroke-width="2.2" fill="none" stroke-linecap="round" stroke-linejoin="round"/>
<path d="M1557.4,614.1 C1563.1,617.3 1588.5,631.6 1600,638 C1611.5,644.4 1638.1,658.8 1644,662" stroke="#707070" stroke-width="2.2" fill="none" stroke-linecap="round" stroke-linejoin="round"/>
<path d="M1382,382 C1380.1,383.1 1371.7,387.8 1368,390 C1364.3,392.2 1358.6,393.9 1354.2,398.5 C1349.8,403.1 1337,417.9 1335,424.2 C1333,430.5 1338.1,439.9 1339.2,445.6 C1340.3,451.3 1342.6,461.9 1343.5,467 C1344.4,472.1 1344.7,479 1345.6,484.1 C1346.5,489.2 1348.5,499.2 1349.9,505.5 C1351.3,511.8 1354.7,525.9 1356.3,531.2 C1357.9,536.5 1358,541.2 1362,545 C1366,548.8 1382.8,558 1386,560" stroke="#6e6e6e" stroke-width="2.9" fill="none" stroke-linecap="round" stroke-linejoin="round"/>
<path d="M1384,386 C1382.4,387.6 1375.5,394.5 1372,398 C1368.5,401.5 1360.7,408.8 1358,412 C1355.3,415.2 1352.5,418.1 1352,422 C1351.5,425.9 1354.8,436.5 1354,441 C1353.2,445.5 1346.8,449.7 1346,456 C1345.2,462.3 1346.9,480.8 1348,488 C1349.1,495.2 1352.7,502.9 1354,510 C1355.3,517.1 1355.1,534.6 1358,541 C1360.9,547.4 1373.6,555.7 1376,558" stroke="#6e6e6e" stroke-width="2.9" fill="none" stroke-linecap="round" stroke-linejoin="round"/>
<path d="M1262,524 L1290,514 L1315,502 L1341,488" stroke="#707070" stroke-width="2.4" fill="none" stroke-linecap="round" stroke-linejoin="round"/>
<path d="M1262,529 L1290,519 L1315,507 L1343,494" stroke="#707070" stroke-width="2.0" fill="none" stroke-linecap="round" stroke-linejoin="round"/>
<path d="M1338,447 L1351,441" stroke="#707070" stroke-width="2" fill="none" stroke-linecap="round" stroke-linejoin="round"/>
<path d="M1343,468 L1347,469" stroke="#707070" stroke-width="2" fill="none" stroke-linecap="round" stroke-linejoin="round"/>
<path d="M1340,432 L1353,428" stroke="#707070" stroke-width="2" fill="none" stroke-linecap="round" stroke-linejoin="round"/>
<path d="M619.9,399.6 L658.8,376.3 L715,400 L800,433.2 L830.8,446.5" stroke="#707070" stroke-width="2.2" fill="none" stroke-linecap="round" stroke-linejoin="round"/>
<path d="M1477,290 C1475.5,292.1 1471.3,299.9 1466,306 C1460.7,312.1 1445.8,328 1437,336 C1428.2,344 1407.3,359.9 1400,366 C1392.7,372.1 1384.4,379.9 1382,382" stroke="#777777" stroke-width="7" fill="none" stroke-linecap="round" stroke-linejoin="round"/>
<path d="M1477,290 C1475.5,292.1 1471.3,299.9 1466,306 C1460.7,312.1 1445.8,328 1437,336 C1428.2,344 1407.3,359.9 1400,366 C1392.7,372.1 1384.4,379.9 1382,382" stroke="#e2e2e2" stroke-width="2.6" fill="none" stroke-linecap="round" stroke-linejoin="round"/>
<path d="M600,733 C602.1,732.9 610.3,733.8 616,732 C621.7,730.2 635.3,724.5 643,719.5 C650.7,714.5 665.7,700.7 674,694.6 C682.3,688.5 696.7,677.7 705,674 C713.3,670.3 724.9,668.6 736,666.7 C747.1,664.8 772.8,661.8 788,659.4 C803.2,657 835.1,651.7 850,649 C864.9,646.3 885.3,642.2 900,639 C914.7,635.8 941.7,629.5 960,625 C978.3,620.5 1015.7,611.7 1037,605 C1058.3,598.3 1098.3,582.8 1120,575 C1141.7,567.2 1181.3,552.3 1200,546.6 C1218.7,540.9 1248,534.3 1260,532 C1272,529.7 1286,529.4 1290,529" stroke="#777777" stroke-width="7" fill="none" stroke-linecap="round" stroke-linejoin="round"/>
<path d="M600,733 C602.1,732.9 610.3,733.8 616,732 C621.7,730.2 635.3,724.5 643,719.5 C650.7,714.5 665.7,700.7 674,694.6 C682.3,688.5 696.7,677.7 705,674 C713.3,670.3 724.9,668.6 736,666.7 C747.1,664.8 772.8,661.8 788,659.4 C803.2,657 835.1,651.7 850,649 C864.9,646.3 885.3,642.2 900,639 C914.7,635.8 941.7,629.5 960,625 C978.3,620.5 1015.7,611.7 1037,605 C1058.3,598.3 1098.3,582.8 1120,575 C1141.7,567.2 1181.3,552.3 1200,546.6 C1218.7,540.9 1248,534.3 1260,532 C1272,529.7 1286,529.4 1290,529" stroke="#e2e2e2" stroke-width="2.6" fill="none" stroke-linecap="round" stroke-linejoin="round"/>
<path d="M353.8,480 C356,481.3 365.4,487.4 370,490 C374.6,492.6 383.5,497.2 388.5,499.3 C393.5,501.4 402.2,504.8 407.7,506 C413.2,507.2 425,508.1 430,508 C435,507.9 441.3,506.2 445,505 C448.7,503.8 446.5,506.2 457.8,499.3 C469.1,492.4 510.5,465.3 530,453 C549.5,440.7 593.9,414.1 604,407 C614.1,399.9 605.7,400.9 606,400" stroke="#8c8c8c" stroke-width="3.2" fill="none" stroke-linecap="round" stroke-linejoin="round"/>
<path d="M353.8,480 C356,481.3 365.4,487.4 370,490 C374.6,492.6 383.5,497.2 388.5,499.3 C393.5,501.4 402.2,504.8 407.7,506 C413.2,507.2 425,508.1 430,508 C435,507.9 441.3,506.2 445,505 C448.7,503.8 446.5,506.2 457.8,499.3 C469.1,492.4 510.5,465.3 530,453 C549.5,440.7 593.9,414.1 604,407 C614.1,399.9 605.7,400.9 606,400" stroke="#e6e6e6" stroke-width="1.4" fill="none" stroke-linecap="round" stroke-linejoin="round"/>
<path d="M393.9,499.1 L378.9,524.8" stroke="#707070" stroke-width="2.2" fill="none" stroke-linecap="round" stroke-linejoin="round"/>
<ellipse cx="430.6" cy="343.9" rx="7.5" ry="4.2" fill="none" stroke="#8c8c8c" stroke-width="2.6"/><ellipse cx="430.6" cy="343.9" rx="7.5" ry="4.2" fill="none" stroke="#ececec" stroke-width="1"/>
<path d="M381.4,300 C383.2,302.4 391.3,314.6 395,318 C398.7,321.4 405.1,322.9 409,325.7 C412.9,328.5 422,337.2 424,339" stroke="#8c8c8c" stroke-width="3" fill="none" stroke-linecap="round" stroke-linejoin="round"/>
<path d="M381.4,300 C383.2,302.4 391.3,314.6 395,318 C398.7,321.4 405.1,322.9 409,325.7 C412.9,328.5 422,337.2 424,339" stroke="#e6e6e6" stroke-width="1.2" fill="none" stroke-linecap="round" stroke-linejoin="round"/>
<path d="M441,345 C444.9,345.9 460.8,348.6 470,352 C479.2,355.4 497.7,365.4 509.7,370.6 C521.7,375.8 547.5,387.4 560,391.3 C572.5,395.2 597.6,398.5 603.4,399.6" stroke="#8c8c8c" stroke-width="3.2" fill="none" stroke-linecap="round" stroke-linejoin="round"/>
<path d="M441,345 C444.9,345.9 460.8,348.6 470,352 C479.2,355.4 497.7,365.4 509.7,370.6 C521.7,375.8 547.5,387.4 560,391.3 C572.5,395.2 597.6,398.5 603.4,399.6" stroke="#e6e6e6" stroke-width="1.4" fill="none" stroke-linecap="round" stroke-linejoin="round"/>
<path d="M20.2,528.8 L54.4,530.3 L136,578 L143,582.5 L150,585 L163,585.5 L187,579.3 L233,557.5" stroke="#707070" stroke-width="2" fill="none" stroke-linecap="round" stroke-linejoin="round"/>
<path d="M206.8,530.3 L233.3,540.4 L264.4,546.7 L275.3,551.3 L272.2,556 L241,558.3 L233.3,557.5 L206.8,540.4 L202,534.2 L206.8,530.3" stroke="#707070" stroke-width="1.8" fill="none" stroke-linecap="round" stroke-linejoin="round"/>
<path d="M202.2,500 L202.5,515 L203.7,531" stroke="#707070" stroke-width="1.8" fill="none" stroke-linecap="round" stroke-linejoin="round"/>
<path d="M206.8,500 L208.4,509.3 L220.8,512.4 L240,524 L272,546.7" stroke="#707070" stroke-width="1.8" fill="none" stroke-linecap="round" stroke-linejoin="round"/>
<path d="M616,732 L643,719.5 L641,735 L648,757 L630,750 Z" fill="#e4e4e4"/>
<path d="M616,732 C616.8,733.3 620.1,739.3 622,742 C623.9,744.7 626.9,749.1 630,752 C633.1,754.9 641,761.2 645,764 C649,766.8 658,771.8 660,773" stroke="#707070" stroke-width="2.4" fill="none" stroke-linecap="round" stroke-linejoin="round"/>
<path d="M643,719.5 C642.6,721 640.1,727.9 640,731 C639.9,734.1 640.9,739.8 642,743 C643.1,746.2 646,752.2 648,755 C650,757.8 654.3,761.9 657,764 C659.7,766.1 666.5,770.1 668,771" stroke="#707070" stroke-width="2.4" fill="none" stroke-linecap="round" stroke-linejoin="round"/>
<ellipse cx="683.2" cy="786.2" rx="25.3" ry="18.3" transform="rotate(-8 683.2 786.2)" fill="none" stroke="#747474" stroke-width="3.8"/>
<path d="M677,759 Q716,758 721,793" fill="none" stroke="#999" stroke-width="0.7" stroke-dasharray="2,1"/><path d="M645,783 Q645,812 680,815" fill="none" stroke="#999" stroke-width="0.7" stroke-dasharray="2,1"/>
<path d="M1082.9,308.0 l9.1,4.2" stroke="#707070" stroke-width="0.75"/>
<path d="M1088.4,304.4 l2.0,0.9" stroke="#707070" stroke-width="0.75"/>
<path d="M1093.9,300.7 l3.7,1.7" stroke="#707070" stroke-width="0.75"/>
<path d="M1099.4,297.1 l5.5,2.5" stroke="#707070" stroke-width="0.75"/>
<path d="M1104.9,293.5 l7.2,3.3" stroke="#707070" stroke-width="0.75"/>
<path d="M1110.4,289.9 l8.9,4.1" stroke="#707070" stroke-width="0.75"/>
<path d="M1115.9,286.2 l10.6,4.8" stroke="#707070" stroke-width="0.75"/>
<path d="M1121.4,282.6 l12.3,5.6" stroke="#707070" stroke-width="0.75"/>
<path d="M1126.9,279.0 l14.0,6.4" stroke="#707070" stroke-width="0.75"/>
<path d="M1132.4,275.4 l15.7,7.2" stroke="#707070" stroke-width="0.75"/>
<path d="M1137.8,271.7 l17.4,8.0" stroke="#707070" stroke-width="0.75"/>
<path d="M1143.3,268.1 l24.2,11.1" stroke="#707070" stroke-width="0.75"/>
<path d="M1148.8,264.5 l32.6,15.0" stroke="#707070" stroke-width="0.75"/>
<path d="M1154.3,260.9 l37.1,17.0" stroke="#707070" stroke-width="0.75"/>
<path d="M1159.8,257.2 l37.0,17.0" stroke="#707070" stroke-width="0.75"/>
<path d="M1165.3,253.6 l36.9,16.9" stroke="#707070" stroke-width="0.75"/>
<path d="M1170.8,250.0 l36.9,16.9" stroke="#707070" stroke-width="0.75"/>
<path d="M1176.3,246.4 l36.8,16.9" stroke="#707070" stroke-width="0.75"/>
<path d="M1181.8,242.7 l36.8,16.9" stroke="#707070" stroke-width="0.75"/>
<path d="M1187.3,239.1 l36.7,16.8" stroke="#707070" stroke-width="0.75"/>
<path d="M1088.7,306 L1157,279 M1117.5,313.7 L1164.7,287.7 M1123,302 L1160,285" stroke="#707070" stroke-width="0.75" fill="none"/>
<ellipse cx="1102.6" cy="311.3" rx="15" ry="7.2" fill="none" stroke="#707070" stroke-width="0.8"/><ellipse cx="1158.9" cy="283.9" rx="8.2" ry="4.3" fill="none" stroke="#707070" stroke-width="0.8"/>
<path d="M1226,258 L1375,302 L1411,330 L1402,337 L1377,331 L1330,312 L1285,295 L1205,274 Z" fill="none" stroke="#707070" stroke-width="0.8"/>
<path d="M1213.0,275.0 l7,-14" stroke="#707070" stroke-width="0.7"/>
<path d="M1220.5,277.3 l7,-14" stroke="#707070" stroke-width="0.7"/>
<path d="M1228.1,279.5 l7,-14" stroke="#707070" stroke-width="0.7"/>
<path d="M1235.6,281.8 l7,-14" stroke="#707070" stroke-width="0.7"/>
<path d="M1243.2,284.1 l7,-14" stroke="#707070" stroke-width="0.7"/>
<path d="M1250.7,286.4 l7,-14" stroke="#707070" stroke-width="0.7"/>
<path d="M1258.3,288.6 l7,-14" stroke="#707070" stroke-width="0.7"/>
<path d="M1265.8,290.9 l7,-14" stroke="#707070" stroke-width="0.7"/>
<path d="M1273.4,293.2 l7,-14" stroke="#707070" stroke-width="0.7"/>
<path d="M1280.9,295.5 l7,-14" stroke="#707070" stroke-width="0.7"/>
<path d="M1288.5,297.7 l7,-14" stroke="#707070" stroke-width="0.7"/>
<path d="M1296.0,300.0 l7,-14" stroke="#707070" stroke-width="0.7"/>
<path d="M1322.0,297.0 l8,-8" stroke="#707070" stroke-width="0.7"/>
<path d="M1327.0,298.6 l8,-8" stroke="#707070" stroke-width="0.7"/>
<path d="M1332.0,300.2 l8,-8" stroke="#707070" stroke-width="0.7"/>
<path d="M1337.0,301.8 l8,-8" stroke="#707070" stroke-width="0.7"/>
<path d="M1342.0,303.4 l8,-8" stroke="#707070" stroke-width="0.7"/>
<path d="M1736.0,558.0 l5,-10" stroke="#fafafa" stroke-width="1.2"/>
<path d="M1743.0,560.5 l5,-10" stroke="#fafafa" stroke-width="1.2"/>
<path d="M1750.0,563.0 l5,-10" stroke="#fafafa" stroke-width="1.2"/>
<path d="M1757.0,565.5 l5,-10" stroke="#fafafa" stroke-width="1.2"/>
<path d="M1764.0,568.0 l5,-10" stroke="#fafafa" stroke-width="1.2"/>
<path d="M1771.0,570.5 l5,-10" stroke="#fafafa" stroke-width="1.2"/>
<path d="M1778.0,573.0 l5,-10" stroke="#fafafa" stroke-width="1.2"/>
<path d="M1785.0,575.5 l5,-10" stroke="#fafafa" stroke-width="1.2"/>
<path d="M1792.0,578.0 l5,-10" stroke="#fafafa" stroke-width="1.2"/>
<path d="M1799.0,580.5 l5,-10" stroke="#fafafa" stroke-width="1.2"/>
<path d="M1806.0,583.0 l5,-10" stroke="#fafafa" stroke-width="1.2"/>
<path d="M1813.0,585.5 l5,-10" stroke="#fafafa" stroke-width="1.2"/>
<path d="M579.0,193.0 L566.0,209.0 L566.0,218.0 L579.0,202.0 Z" fill="#bcbcbc" stroke="#bcbcbc" stroke-width="0.3"/><path d="M566.0,209.0 L481.0,208.0 L481.0,217.0 L566.0,218.0 Z" fill="#a9a9a9" stroke="#a9a9a9" stroke-width="0.3"/><path d="M481,208 L498,183 L520,183 L520,186.5 L578,189.5 L579,193 L566,209 Z" fill="#ffffff"/>
<path d="M446.0,263.6 L445.2,260.7 L445.2,265.7 L446.0,268.6 Z" fill="#a9a9a9" stroke="#a9a9a9" stroke-width="0.3"/><path d="M505.9,244.3 L492.4,262.6 L492.4,267.6 L505.9,249.3 Z" fill="#bcbcbc" stroke="#bcbcbc" stroke-width="0.3"/><path d="M492.4,262.6 L468.3,261.7 L468.3,266.7 L492.4,267.6 Z" fill="#a9a9a9" stroke="#a9a9a9" stroke-width="0.3"/><path d="M468.3,261.7 L453.9,281.9 L453.9,286.9 L468.3,266.7 Z" fill="#bcbcbc" stroke="#bcbcbc" stroke-width="0.3"/><path d="M453.9,281.9 L433.7,281.9 L433.7,286.9 L453.9,286.9 Z" fill="#bcbcbc" stroke="#bcbcbc" stroke-width="0.3"/><path d="M433.7,281.9 L446,263.6 L445.2,260.7 L463.5,237.6 L504,241.5 L505.9,244.3 L492.4,262.6 L468.3,261.7 L453.9,281.9 Z" fill="#ffffff"/>
<path d="M465,238 L470,231 L523,232 L520,240 Z" fill="#ffffff"/>
<path d="M502,305 L510,291 L566,293 L563,305 Z" fill="#ffffff"/>
<path d="M240.0,325.0 L185.0,352.0 L185.0,355.0 L240.0,328.0 Z" fill="#bcbcbc" stroke="#bcbcbc" stroke-width="0.3"/><path d="M185.0,352.0 L168.0,343.0 L168.0,346.0 L185.0,355.0 Z" fill="#a9a9a9" stroke="#a9a9a9" stroke-width="0.3"/><path d="M168,343 L223,316 L240,325 L185,352 Z" fill="#ffffff"/>
<path d="M277.0,342.0 L250.0,359.5 L250.0,363.0 L277.0,345.5 Z" fill="#bcbcbc" stroke="#bcbcbc" stroke-width="0.3"/><path d="M250.0,359.5 L220.0,350.5 L220.0,354.0 L250.0,363.0 Z" fill="#a9a9a9" stroke="#a9a9a9" stroke-width="0.3"/><path d="M220,350.5 L248,335 L277,342 L250,359.5 Z" fill="#ffffff"/>
<path d="M288.0,343.5 L281.0,348.0 L281.0,356.0 L288.0,351.5 Z" fill="#bcbcbc" stroke="#bcbcbc" stroke-width="0.3"/><path d="M281.0,348.0 L274.0,345.0 L274.0,353.0 L281.0,356.0 Z" fill="#a9a9a9" stroke="#a9a9a9" stroke-width="0.3"/><path d="M274,345 L282,340.5 L288,343.5 L281,348 Z" fill="#ffffff"/>
<path d="M117.6,408.9 L111.2,411.6 L111.2,419.6 L117.6,416.9 Z" fill="#bcbcbc" stroke="#bcbcbc" stroke-width="0.3"/><path d="M111.2,411.6 L96.3,404.6 L96.3,412.6 L111.2,419.6 Z" fill="#a9a9a9" stroke="#a9a9a9" stroke-width="0.3"/><path d="M96.3,404.6 L102.7,400.3 L117.6,408.9 L111.2,411.6 Z" fill="#ffffff"/>
<path d="M635.9,433.7 L627.4,440.1 L627.4,453.1 L635.9,446.7 Z" fill="#bcbcbc" stroke="#bcbcbc" stroke-width="0.3"/><path d="M627.4,440.1 L578.2,418.7 L578.2,431.7 L627.4,453.1 Z" fill="#a9a9a9" stroke="#a9a9a9" stroke-width="0.3"/><path d="M578.2,418.7 L587.8,412.3 L635.9,433.7 L627.4,440.1 Z" fill="#ffffff"/>
<path d="M644.5,405.9 L636.0,412.3 L636.0,424.3 L644.5,417.9 Z" fill="#bcbcbc" stroke="#bcbcbc" stroke-width="0.3"/><path d="M636.0,412.3 L616.7,404.8 L616.7,416.8 L636.0,424.3 Z" fill="#a9a9a9" stroke="#a9a9a9" stroke-width="0.3"/><path d="M616.7,404.8 L627.4,398.4 L644.5,405.9 L636,412.3 Z" fill="#ffffff"/>
<path d="M661.6,414.4 L657.3,419.8 L657.3,431.8 L661.6,426.4 Z" fill="#bcbcbc" stroke="#bcbcbc" stroke-width="0.3"/><path d="M657.3,419.8 L634.9,413.4 L634.9,425.4 L657.3,431.8 Z" fill="#a9a9a9" stroke="#a9a9a9" stroke-width="0.3"/><path d="M634.9,413.4 L646.6,408 L661.6,414.4 L657.3,419.8 Z" fill="#ffffff"/>
<path d="M685.1,421.9 L678.7,428.3 L678.7,440.3 L685.1,433.9 Z" fill="#bcbcbc" stroke="#bcbcbc" stroke-width="0.3"/><path d="M678.7,428.3 L658.4,419.8 L658.4,431.8 L678.7,440.3 Z" fill="#a9a9a9" stroke="#a9a9a9" stroke-width="0.3"/><path d="M658.4,419.8 L668,413.4 L685.1,421.9 L678.7,428.3 Z" fill="#ffffff"/>
<path d="M711.9,418.7 L706.5,426.2 L706.5,436.2 L711.9,428.7 Z" fill="#bcbcbc" stroke="#bcbcbc" stroke-width="0.3"/><path d="M706.5,426.2 L690.5,420.9 L690.5,430.9 L706.5,436.2 Z" fill="#a9a9a9" stroke="#a9a9a9" stroke-width="0.3"/><path d="M690.5,420.9 L700.1,413.4 L711.9,418.7 L706.5,426.2 Z" fill="#ffffff"/>
<path d="M711.9,440.1 L702.2,446.5 L702.2,450.5 L711.9,444.1 Z" fill="#bcbcbc" stroke="#bcbcbc" stroke-width="0.3"/><path d="M702.2,446.5 L680.9,438.0 L680.9,442.0 L702.2,450.5 Z" fill="#a9a9a9" stroke="#a9a9a9" stroke-width="0.3"/><path d="M680.9,438 L690.5,431.6 L711.9,440.1 L702.2,446.5 Z" fill="#ffffff"/>
<path d="M563.3,452.3 L552.2,459.9 L552.2,469.6 L563.3,462.0 Z" fill="#bcbcbc" stroke="#bcbcbc" stroke-width="0.3"/><path d="M552.2,459.9 L540.3,455.7 L540.3,465.4 L552.2,469.6 Z" fill="#a9a9a9" stroke="#a9a9a9" stroke-width="0.3"/><path d="M540.3,455.7 L551.5,446.7 L563.3,452.3 L552.2,459.9 Z" fill="#ffffff"/>
<path d="M591.1,446.0 L580.7,452.3 L580.7,452.8 L591.1,446.5 Z" fill="#bcbcbc" stroke="#bcbcbc" stroke-width="0.3"/><path d="M580.7,452.3 L569.5,446.7 L569.5,447.2 L580.7,452.8 Z" fill="#a9a9a9" stroke="#a9a9a9" stroke-width="0.3"/><path d="M569.5,446.7 L580.7,441.1 L591.1,446 L580.7,452.3 Z" fill="#ffffff"/>
<path d="M617.5,450.9 L604.3,457.8 L604.3,463.8 L617.5,456.9 Z" fill="#bcbcbc" stroke="#bcbcbc" stroke-width="0.3"/><path d="M604.3,457.8 L592.5,454.3 L592.5,460.3 L604.3,463.8 Z" fill="#a9a9a9" stroke="#a9a9a9" stroke-width="0.3"/><path d="M592.5,454.3 L605.7,444.6 L617.5,450.9 L604.3,457.8 Z" fill="#ffffff"/>
<path d="M590.4,470.3 L578.6,477.3 L578.6,482.2 L590.4,475.2 Z" fill="#bcbcbc" stroke="#bcbcbc" stroke-width="0.3"/><path d="M578.6,477.3 L566.8,472.4 L566.8,477.3 L578.6,482.2 Z" fill="#a9a9a9" stroke="#a9a9a9" stroke-width="0.3"/><path d="M566.8,472.4 L578.6,463.4 L590.4,470.3 L578.6,477.3 Z" fill="#ffffff"/>
<path d="M614.7,475.9 L601.5,484.9 L601.5,493.2 L614.7,484.2 Z" fill="#bcbcbc" stroke="#bcbcbc" stroke-width="0.3"/><path d="M601.5,484.9 L589.7,480.1 L589.7,488.4 L601.5,493.2 Z" fill="#a9a9a9" stroke="#a9a9a9" stroke-width="0.3"/><path d="M589.7,480.1 L603.6,469.6 L614.7,475.9 L601.5,484.9 Z" fill="#ffffff"/>
<path d="M639.8,492.6 L628.7,499.5 L628.7,505.8 L639.8,498.9 Z" fill="#bcbcbc" stroke="#bcbcbc" stroke-width="0.3"/><path d="M628.7,499.5 L616.1,495.4 L616.1,501.7 L628.7,505.8 Z" fill="#a9a9a9" stroke="#a9a9a9" stroke-width="0.3"/><path d="M616.1,495.4 L628,485.6 L639.8,492.6 L628.7,499.5 Z" fill="#ffffff"/>
<path d="M667.6,505.1 L656.5,512.8 L656.5,518.4 L667.6,510.7 Z" fill="#bcbcbc" stroke="#bcbcbc" stroke-width="0.3"/><path d="M656.5,512.8 L643.3,508.6 L643.3,514.2 L656.5,518.4 Z" fill="#a9a9a9" stroke="#a9a9a9" stroke-width="0.3"/><path d="M643.3,508.6 L655.1,498.2 L667.6,505.1 L656.5,512.8 Z" fill="#ffffff"/>
<path d="M559.8,495.4 L527.1,516.2 L527.1,521.1 L559.8,500.3 Z" fill="#bcbcbc" stroke="#bcbcbc" stroke-width="0.3"/><path d="M527.1,516.2 L509.0,510.7 L509.0,515.6 L527.1,521.1 Z" fill="#a9a9a9" stroke="#a9a9a9" stroke-width="0.3"/><path d="M509,510.7 L542.4,486.3 L559.8,495.4 L527.1,516.2 Z" fill="#ffffff"/>
<path d="M559.8,523.2 L552.9,527.4 L552.9,530.9 L559.8,526.7 Z" fill="#bcbcbc" stroke="#bcbcbc" stroke-width="0.3"/><path d="M552.9,527.4 L536.2,521.8 L536.2,525.3 L552.9,530.9 Z" fill="#a9a9a9" stroke="#a9a9a9" stroke-width="0.3"/><path d="M536.2,521.8 L544.5,515.5 L559.8,523.2 L552.9,527.4 Z" fill="#ffffff"/>
<path d="M591.8,529.4 L583.4,535.7 L583.4,548.9 L591.8,542.6 Z" fill="#bcbcbc" stroke="#bcbcbc" stroke-width="0.3"/><path d="M583.4,535.7 L559.8,524.6 L559.8,537.8 L583.4,548.9 Z" fill="#a9a9a9" stroke="#a9a9a9" stroke-width="0.3"/><path d="M559.8,524.6 L568.2,517.6 L591.8,529.4 L583.4,535.7 Z" fill="#ffffff"/>
<path d="M1298.0,243.0 L1283.0,253.5 L1283.0,256.5 L1298.0,246.0 Z" fill="#bcbcbc" stroke="#bcbcbc" stroke-width="0.3"/><path d="M1283.0,253.5 L1273.0,261.0 L1273.0,264.0 L1283.0,256.5 Z" fill="#bcbcbc" stroke="#bcbcbc" stroke-width="0.3"/><path d="M1273.0,261.0 L1252.0,256.0 L1252.0,259.0 L1273.0,264.0 Z" fill="#a9a9a9" stroke="#a9a9a9" stroke-width="0.3"/><path d="M1252.0,256.0 L1251.0,250.0 L1251.0,253.0 L1252.0,259.0 Z" fill="#a9a9a9" stroke="#a9a9a9" stroke-width="0.3"/><path d="M1251,250 L1264,238.5 L1292,239.6 L1298,243 L1283,253.5 L1273,261 L1252,256 Z" fill="#ffffff"/>
<path d="M1321.7,248.0 L1309.0,261.0 L1309.0,264.0 L1321.7,251.0 Z" fill="#bcbcbc" stroke="#bcbcbc" stroke-width="0.3"/><path d="M1309.0,261.0 L1287.5,254.5 L1287.5,257.5 L1309.0,264.0 Z" fill="#a9a9a9" stroke="#a9a9a9" stroke-width="0.3"/><path d="M1287.5,254.5 L1302.5,242.8 L1321.7,248 L1309,261 Z" fill="#ffffff"/>
<path d="M1346.3,257.8 L1328.0,273.8 L1328.0,276.8 L1346.3,260.8 Z" fill="#bcbcbc" stroke="#bcbcbc" stroke-width="0.3"/><path d="M1328.0,273.8 L1309.0,268.4 L1309.0,271.4 L1328.0,276.8 Z" fill="#a9a9a9" stroke="#a9a9a9" stroke-width="0.3"/><path d="M1309,268.4 L1332.4,252.4 L1346.3,257.8 L1328,273.8 Z" fill="#ffffff"/>
<path d="M1404.0,276.0 L1383.7,287.7 L1383.7,290.7 L1404.0,279.0 Z" fill="#bcbcbc" stroke="#bcbcbc" stroke-width="0.3"/><path d="M1383.7,287.7 L1375.2,292.0 L1375.2,295.0 L1383.7,290.7 Z" fill="#bcbcbc" stroke="#bcbcbc" stroke-width="0.3"/><path d="M1375.2,292.0 L1343.0,280.2 L1343.0,283.2 L1375.2,295.0 Z" fill="#a9a9a9" stroke="#a9a9a9" stroke-width="0.3"/><path d="M1343,280.2 L1362.4,264.2 L1404,276 L1383.7,287.7 L1375.2,292 Z" fill="#ffffff"/>
<path d="M1268.0,302.7 L1244.7,316.6 L1244.7,328.6 L1268.0,314.7 Z" fill="#bcbcbc" stroke="#bcbcbc" stroke-width="0.3"/><path d="M1244.7,316.6 L1234.0,322.5 L1234.0,334.5 L1244.7,328.6 Z" fill="#bcbcbc" stroke="#bcbcbc" stroke-width="0.3"/><path d="M1234.0,322.5 L1186.0,302.7 L1186.0,314.7 L1234.0,334.5 Z" fill="#a9a9a9" stroke="#a9a9a9" stroke-width="0.3"/><path d="M1186,302.7 L1200,297 L1225,304.8 L1230,292 L1268,302.7 L1244.7,316.6 L1234,322.5 Z" fill="#ffffff"/>
<path d="M1179.5,309.0 L1175.5,311.0 L1175.5,320.0 L1179.5,318.0 Z" fill="#bcbcbc" stroke="#bcbcbc" stroke-width="0.3"/><path d="M1175.5,311.0 L1172.0,309.0 L1172.0,318.0 L1175.5,320.0 Z" fill="#a9a9a9" stroke="#a9a9a9" stroke-width="0.3"/><path d="M1172,309 L1176,307 L1179.5,309 L1175.5,311 Z" fill="#ffffff"/>
<path d="M1193.4,336.9 L1185.0,343.0 L1185.0,350.0 L1193.4,343.9 Z" fill="#bcbcbc" stroke="#bcbcbc" stroke-width="0.3"/><path d="M1185.0,343.0 L1153.8,335.8 L1153.8,342.8 L1185.0,350.0 Z" fill="#a9a9a9" stroke="#a9a9a9" stroke-width="0.3"/><path d="M1153.8,335.8 L1164.5,327.3 L1193.4,336.9 L1185,343 Z" fill="#ffffff"/>
<path d="M1211.6,345.5 L1196.6,358.0 L1196.6,366.0 L1211.6,353.5 Z" fill="#bcbcbc" stroke="#bcbcbc" stroke-width="0.3"/><path d="M1196.6,358.0 L1183.7,355.0 L1183.7,363.0 L1196.6,366.0 Z" fill="#a9a9a9" stroke="#a9a9a9" stroke-width="0.3"/><path d="M1183.7,355 L1199.8,341.2 L1211.6,345.5 L1196.6,358 Z" fill="#ffffff"/>
<path d="M1362.4,330.5 L1341.0,351.9 L1341.0,354.9 L1362.4,333.5 Z" fill="#bcbcbc" stroke="#bcbcbc" stroke-width="0.3"/><path d="M1341.0,351.9 L1315.3,343.3 L1315.3,346.3 L1341.0,354.9 Z" fill="#a9a9a9" stroke="#a9a9a9" stroke-width="0.3"/><path d="M1315.3,343.3 L1306.7,349.7 L1306.7,352.7 L1315.3,346.3 Z" fill="#bcbcbc" stroke="#bcbcbc" stroke-width="0.3"/><path d="M1319.6,359.4 L1304.6,374.0 L1304.6,377.0 L1319.6,362.4 Z" fill="#bcbcbc" stroke="#bcbcbc" stroke-width="0.3"/><path d="M1304.6,374.0 L1255.4,356.3 L1255.4,359.3 L1304.6,377.0 Z" fill="#a9a9a9" stroke="#a9a9a9" stroke-width="0.3"/><path d="M1264.0,345.5 L1246.8,336.9 L1246.8,339.9 L1264.0,348.5 Z" fill="#a9a9a9" stroke="#a9a9a9" stroke-width="0.3"/><path d="M1246.8,336.9 L1257.5,328.3 L1285.3,307 L1323.9,315.5 L1362.4,330.5 L1341,351.9 L1315.3,343.3 L1306.7,349.7 L1319.6,359.4 L1304.6,374 L1255.4,356.3 L1264,345.5 Z" fill="#ffffff"/>
<path d="M1323.9,305.9 L1315.3,312.0 L1315.3,322.0 L1323.9,315.9 Z" fill="#bcbcbc" stroke="#bcbcbc" stroke-width="0.3"/><path d="M1315.3,312.0 L1302.5,308.0 L1302.5,318.0 L1315.3,322.0 Z" fill="#a9a9a9" stroke="#a9a9a9" stroke-width="0.3"/><path d="M1302.5,308 L1313,301.6 L1323.9,305.9 L1315.3,312 Z" fill="#ffffff"/>
<path d="M1238.3,355.0 L1232.0,358.0 L1232.0,368.0 L1238.3,365.0 Z" fill="#bcbcbc" stroke="#bcbcbc" stroke-width="0.3"/><path d="M1232.0,358.0 L1225.5,355.0 L1225.5,365.0 L1232.0,368.0 Z" fill="#a9a9a9" stroke="#a9a9a9" stroke-width="0.3"/><path d="M1225.5,355 L1232,352 L1238.3,355 L1232,358 Z" fill="#ffffff"/>
<path d="M1268.2,364.0 L1260.0,369.0 L1260.0,376.0 L1268.2,371.0 Z" fill="#bcbcbc" stroke="#bcbcbc" stroke-width="0.3"/><path d="M1260.0,369.0 L1240.4,362.0 L1240.4,369.0 L1260.0,376.0 Z" fill="#a9a9a9" stroke="#a9a9a9" stroke-width="0.3"/><path d="M1240.4,362 L1248,357.5 L1268.2,364 L1260,369 Z" fill="#ffffff"/>
<path d="M1269.3,378.0 L1262.0,381.0 L1262.0,390.0 L1269.3,387.0 Z" fill="#bcbcbc" stroke="#bcbcbc" stroke-width="0.3"/><path d="M1262.0,381.0 L1253.3,377.0 L1253.3,386.0 L1262.0,390.0 Z" fill="#a9a9a9" stroke="#a9a9a9" stroke-width="0.3"/><path d="M1253.3,377 L1260,374 L1269.3,378 L1262,381 Z" fill="#ffffff"/>
<path d="M1646.3,385.7 L1642.0,392.1 L1642.0,400.6 L1646.3,394.2 Z" fill="#bcbcbc" stroke="#bcbcbc" stroke-width="0.3"/><path d="M1642.0,392.1 L1618.5,385.7 L1618.5,394.2 L1642.0,400.6 Z" fill="#a9a9a9" stroke="#a9a9a9" stroke-width="0.3"/><path d="M1618.5,385.7 L1623.8,378.2 L1646.3,385.7 L1642,392.1 Z" fill="#ffffff"/>
<path d="M1761.0,377.0 L1747.0,389.5 L1747.0,397.5 L1761.0,385.0 Z" fill="#bcbcbc" stroke="#bcbcbc" stroke-width="0.3"/><path d="M1747.0,389.5 L1716.0,383.0 L1716.0,391.0 L1747.0,397.5 Z" fill="#a9a9a9" stroke="#a9a9a9" stroke-width="0.3"/><path d="M1716,383 L1723,374 L1761,377 L1747,389.5 Z" fill="#ffffff"/>
<path d="M1711.5,412.4 L1703.0,420.0 L1703.0,430.0 L1711.5,422.4 Z" fill="#bcbcbc" stroke="#bcbcbc" stroke-width="0.3"/><path d="M1703.0,420.0 L1653.8,403.8 L1653.8,413.8 L1703.0,430.0 Z" fill="#a9a9a9" stroke="#a9a9a9" stroke-width="0.3"/><path d="M1653.8,403.8 L1659,397.4 L1711.5,412.4 L1703,420 Z" fill="#ffffff"/>
<path d="M1754.3,425.2 L1749.0,433.8 L1749.0,444.3 L1754.3,435.7 Z" fill="#bcbcbc" stroke="#bcbcbc" stroke-width="0.3"/><path d="M1749.0,433.8 L1714.7,425.2 L1714.7,435.7 L1749.0,444.3 Z" fill="#a9a9a9" stroke="#a9a9a9" stroke-width="0.3"/><path d="M1714.7,425.2 L1721.1,417.7 L1754.3,425.2 L1749,433.8 Z" fill="#ffffff"/>
<path d="M1745.0,447.7 L1716.9,472.3 L1716.9,479.3 L1745.0,454.7 Z" fill="#bcbcbc" stroke="#bcbcbc" stroke-width="0.3"/><path d="M1716.9,472.3 L1708.0,482.0 L1708.0,489.0 L1716.9,479.3 Z" fill="#bcbcbc" stroke="#bcbcbc" stroke-width="0.3"/><path d="M1708.0,482.0 L1677.0,474.0 L1677.0,481.0 L1708.0,489.0 Z" fill="#a9a9a9" stroke="#a9a9a9" stroke-width="0.3"/><path d="M1677.0,474.0 L1608.9,445.5 L1608.9,452.5 L1677.0,481.0 Z" fill="#a9a9a9" stroke="#a9a9a9" stroke-width="0.3"/><path d="M1608.9,445.5 L1644,415.6 L1700,430 L1745,447.7 L1716.9,472.3 L1708,482 L1677,474 Z" fill="#ffffff"/>
<path d="M1812.0,445.5 L1785.3,487.2 L1785.3,491.2 L1812.0,449.5 Z" fill="#bcbcbc" stroke="#bcbcbc" stroke-width="0.3"/><path d="M1785.3,487.2 L1749.0,477.6 L1749.0,481.6 L1785.3,491.2 Z" fill="#a9a9a9" stroke="#a9a9a9" stroke-width="0.3"/><path d="M1749,477.6 L1768.2,460.5 L1776.7,444.5 L1793.9,438.1 L1812,445.5 L1785.3,487.2 Z" fill="#ffffff"/>
<path d="M1765.0,488.0 L1759.0,491.0 L1759.0,505.0 L1765.0,502.0 Z" fill="#bcbcbc" stroke="#bcbcbc" stroke-width="0.3"/><path d="M1759.0,491.0 L1745.7,486.0 L1745.7,500.0 L1759.0,505.0 Z" fill="#a9a9a9" stroke="#a9a9a9" stroke-width="0.3"/><path d="M1745.7,486 L1752,483 L1765,488 L1759,491 Z" fill="#ffffff"/>
<path d="M1760.7,517.2 L1749.0,521.5 L1749.0,524.5 L1760.7,520.2 Z" fill="#bcbcbc" stroke="#bcbcbc" stroke-width="0.3"/><path d="M1749.0,521.5 L1723.3,502.2 L1723.3,505.2 L1749.0,524.5 Z" fill="#a9a9a9" stroke="#a9a9a9" stroke-width="0.3"/><path d="M1723.3,502.2 L1738.3,499 L1760.7,517.2 L1749,521.5 Z" fill="#ffffff"/>
<path d="M1853.7,460.5 L1843.0,476.5 L1843.0,482.5 L1853.7,466.5 Z" fill="#bcbcbc" stroke="#bcbcbc" stroke-width="0.3"/><path d="M1843.0,476.5 L1818.5,471.2 L1818.5,477.2 L1843.0,482.5 Z" fill="#a9a9a9" stroke="#a9a9a9" stroke-width="0.3"/><path d="M1818.5,471.2 L1832.3,452 L1853.7,460.5 L1843,476.5 Z" fill="#ffffff"/>
<path d="M1883.7,526.8 L1875.1,541.8 L1875.1,551.4 L1883.7,536.4 Z" fill="#bcbcbc" stroke="#bcbcbc" stroke-width="0.3"/><path d="M1875.1,541.8 L1783.2,510.8 L1783.2,520.4 L1875.1,551.4 Z" fill="#a9a9a9" stroke="#a9a9a9" stroke-width="0.3"/><path d="M1783.2,510.8 L1802.4,481.9 L1860.2,500.1 L1878.3,511.8 L1883.7,526.8 L1875.1,541.8 Z" fill="#ffffff"/>
<path d="M1401.7,393.7 L1377.6,407.4 L1377.6,410.4 L1401.7,396.7 Z" fill="#bcbcbc" stroke="#bcbcbc" stroke-width="0.3"/><path d="M1377.6,407.4 L1374.4,404.2 L1374.4,407.2 L1377.6,410.4 Z" fill="#a9a9a9" stroke="#a9a9a9" stroke-width="0.3"/><path d="M1374.4,404.2 L1398.5,391.3 L1401.7,393.7 L1377.6,407.4 Z" fill="#ffffff"/>
<path d="M1422.6,413.0 L1419.4,417.0 L1419.4,425.0 L1422.6,421.0 Z" fill="#bcbcbc" stroke="#bcbcbc" stroke-width="0.3"/><path d="M1419.4,417.0 L1388.9,407.4 L1388.9,415.4 L1419.4,425.0 Z" fill="#a9a9a9" stroke="#a9a9a9" stroke-width="0.3"/><path d="M1388.9,407.4 L1392,404.2 L1422.6,413 L1419.4,417 Z" fill="#ffffff"/>
<path d="M1417.8,423.0 L1414.5,424.5 L1414.5,435.5 L1417.8,434.0 Z" fill="#bcbcbc" stroke="#bcbcbc" stroke-width="0.3"/><path d="M1414.5,424.5 L1411.3,423.0 L1411.3,434.0 L1414.5,435.5 Z" fill="#a9a9a9" stroke="#a9a9a9" stroke-width="0.3"/><path d="M1411.3,423 L1414.5,421.8 L1417.8,423 L1414.5,424.5 Z" fill="#ffffff"/>
<path d="M1429.0,435.0 L1425.5,436.5 L1425.5,440.0 L1429.0,438.5 Z" fill="#bcbcbc" stroke="#bcbcbc" stroke-width="0.3"/><path d="M1425.5,436.5 L1419.4,434.0 L1419.4,437.5 L1425.5,440.0 Z" fill="#a9a9a9" stroke="#a9a9a9" stroke-width="0.3"/><path d="M1419.4,434 L1423,433 L1429,435 L1425.5,436.5 Z" fill="#ffffff"/>
<path d="M1590,513 L1609,519 L1557,608 L1511,593 Z" fill="#ececec"/><path d="M1598.9,515.8 L1595.1,520.7 L1595.1,523.3 L1598.9,518.4 Z" fill="#bcbcbc" stroke="#bcbcbc" stroke-width="0.3"/><path d="M1595.1,520.7 L1585.4,517.7 L1585.4,520.3 L1595.1,523.3 Z" fill="#a9a9a9" stroke="#a9a9a9" stroke-width="0.3"/><path d="M1590,513 L1598.9,515.8 L1595.1,520.7 L1585.4,517.7 Z" fill="#ffffff"/><path d="M1608.4,518.8 L1605.3,524.0 L1605.3,526.6 L1608.4,521.4 Z" fill="#bcbcbc" stroke="#bcbcbc" stroke-width="0.3"/><path d="M1605.3,524.0 L1595.7,520.9 L1595.7,523.5 L1605.3,526.6 Z" fill="#a9a9a9" stroke="#a9a9a9" stroke-width="0.3"/><path d="M1599.5,516 L1608.4,518.8 L1605.3,524 L1595.7,520.9 Z" fill="#ffffff"/><path d="M1593.4,522.8 L1589.5,527.8 L1589.5,530.4 L1593.4,525.4 Z" fill="#bcbcbc" stroke="#bcbcbc" stroke-width="0.3"/><path d="M1589.5,527.8 L1578.8,524.3 L1578.8,526.9 L1589.5,530.4 Z" fill="#a9a9a9" stroke="#a9a9a9" stroke-width="0.3"/><path d="M1583.4,519.7 L1593.4,522.8 L1589.5,527.8 L1578.8,524.3 Z" fill="#ffffff"/><path d="M1604.0,526.2 L1600.9,531.4 L1600.9,534.0 L1604.0,528.8 Z" fill="#bcbcbc" stroke="#bcbcbc" stroke-width="0.3"/><path d="M1600.9,531.4 L1590.2,528.0 L1590.2,530.6 L1600.9,534.0 Z" fill="#a9a9a9" stroke="#a9a9a9" stroke-width="0.3"/><path d="M1594,523 L1604,526.2 L1600.9,531.4 L1590.2,528 Z" fill="#ffffff"/><path d="M1587.9,529.9 L1584.0,534.8 L1584.0,537.4 L1587.9,532.5 Z" fill="#bcbcbc" stroke="#bcbcbc" stroke-width="0.3"/><path d="M1584.0,534.8 L1572.2,531.0 L1572.2,533.6 L1584.0,537.4 Z" fill="#a9a9a9" stroke="#a9a9a9" stroke-width="0.3"/><path d="M1576.8,526.3 L1587.9,529.9 L1584,534.8 L1572.2,531 Z" fill="#ffffff"/><path d="M1599.6,533.6 L1596.5,538.8 L1596.5,541.4 L1599.6,536.2 Z" fill="#bcbcbc" stroke="#bcbcbc" stroke-width="0.3"/><path d="M1596.5,538.8 L1584.8,535.0 L1584.8,537.6 L1596.5,541.4 Z" fill="#a9a9a9" stroke="#a9a9a9" stroke-width="0.3"/><path d="M1588.6,530.1 L1599.6,533.6 L1596.5,538.8 L1584.8,535 Z" fill="#ffffff"/><path d="M1582.4,536.9 L1578.5,541.8 L1578.5,544.4 L1582.4,539.5 Z" fill="#bcbcbc" stroke="#bcbcbc" stroke-width="0.3"/><path d="M1578.5,541.8 L1565.6,537.7 L1565.6,540.3 L1578.5,544.4 Z" fill="#a9a9a9" stroke="#a9a9a9" stroke-width="0.3"/><path d="M1570.2,533 L1582.4,536.9 L1578.5,541.8 L1565.6,537.7 Z" fill="#ffffff"/><path d="M1595.2,541.0 L1592.1,546.2 L1592.1,548.8 L1595.2,543.6 Z" fill="#bcbcbc" stroke="#bcbcbc" stroke-width="0.3"/><path d="M1592.1,546.2 L1579.3,542.1 L1579.3,544.7 L1592.1,548.8 Z" fill="#a9a9a9" stroke="#a9a9a9" stroke-width="0.3"/><path d="M1583.1,537.1 L1595.2,541 L1592.1,546.2 L1579.3,542.1 Z" fill="#ffffff"/><path d="M1576.8,543.9 L1573.0,548.8 L1573.0,551.4 L1576.8,546.5 Z" fill="#bcbcbc" stroke="#bcbcbc" stroke-width="0.3"/><path d="M1573.0,548.8 L1559.1,544.3 L1559.1,546.9 L1573.0,551.4 Z" fill="#a9a9a9" stroke="#a9a9a9" stroke-width="0.3"/><path d="M1563.7,539.7 L1576.8,543.9 L1573,548.8 L1559.1,544.3 Z" fill="#ffffff"/><path d="M1590.8,548.4 L1587.7,553.6 L1587.7,556.2 L1590.8,551.0 Z" fill="#bcbcbc" stroke="#bcbcbc" stroke-width="0.3"/><path d="M1587.7,553.6 L1573.8,549.1 L1573.8,551.7 L1587.7,556.2 Z" fill="#a9a9a9" stroke="#a9a9a9" stroke-width="0.3"/><path d="M1577.7,544.2 L1590.8,548.4 L1587.7,553.6 L1573.8,549.1 Z" fill="#ffffff"/><path d="M1571.3,550.9 L1567.4,555.8 L1567.4,558.4 L1571.3,553.5 Z" fill="#bcbcbc" stroke="#bcbcbc" stroke-width="0.3"/><path d="M1567.4,555.8 L1552.5,551.0 L1552.5,553.6 L1567.4,558.4 Z" fill="#a9a9a9" stroke="#a9a9a9" stroke-width="0.3"/><path d="M1557.1,546.3 L1571.3,550.9 L1567.4,555.8 L1552.5,551 Z" fill="#ffffff"/><path d="M1586.4,555.8 L1583.3,561.0 L1583.3,563.6 L1586.4,558.4 Z" fill="#bcbcbc" stroke="#bcbcbc" stroke-width="0.3"/><path d="M1583.3,561.0 L1568.4,556.1 L1568.4,558.7 L1583.3,563.6 Z" fill="#a9a9a9" stroke="#a9a9a9" stroke-width="0.3"/><path d="M1572.2,551.2 L1586.4,555.8 L1583.3,561 L1568.4,556.1 Z" fill="#ffffff"/><path d="M1565.8,557.9 L1561.9,562.8 L1561.9,565.4 L1565.8,560.5 Z" fill="#bcbcbc" stroke="#bcbcbc" stroke-width="0.3"/><path d="M1561.9,562.8 L1545.9,557.7 L1545.9,560.3 L1561.9,565.4 Z" fill="#a9a9a9" stroke="#a9a9a9" stroke-width="0.3"/><path d="M1550.5,553 L1565.8,557.9 L1561.9,562.8 L1545.9,557.7 Z" fill="#ffffff"/><path d="M1582.0,563.2 L1578.9,568.4 L1578.9,571.0 L1582.0,565.8 Z" fill="#bcbcbc" stroke="#bcbcbc" stroke-width="0.3"/><path d="M1578.9,568.4 L1562.9,563.2 L1562.9,565.8 L1578.9,571.0 Z" fill="#a9a9a9" stroke="#a9a9a9" stroke-width="0.3"/><path d="M1566.8,558.2 L1582,563.2 L1578.9,568.4 L1562.9,563.2 Z" fill="#ffffff"/><path d="M1560.2,565.0 L1556.4,569.9 L1556.4,572.5 L1560.2,567.6 Z" fill="#bcbcbc" stroke="#bcbcbc" stroke-width="0.3"/><path d="M1556.4,569.9 L1539.3,564.3 L1539.3,566.9 L1556.4,572.5 Z" fill="#a9a9a9" stroke="#a9a9a9" stroke-width="0.3"/><path d="M1543.9,559.7 L1560.2,565 L1556.4,569.9 L1539.3,564.3 Z" fill="#ffffff"/><path d="M1577.6,570.6 L1574.5,575.8 L1574.5,578.4 L1577.6,573.2 Z" fill="#bcbcbc" stroke="#bcbcbc" stroke-width="0.3"/><path d="M1574.5,575.8 L1557.5,570.2 L1557.5,572.8 L1574.5,578.4 Z" fill="#a9a9a9" stroke="#a9a9a9" stroke-width="0.3"/><path d="M1561.3,565.3 L1577.6,570.6 L1574.5,575.8 L1557.5,570.2 Z" fill="#ffffff"/><path d="M1554.7,572.0 L1550.9,576.9 L1550.9,579.5 L1554.7,574.6 Z" fill="#bcbcbc" stroke="#bcbcbc" stroke-width="0.3"/><path d="M1550.9,576.9 L1532.7,571.0 L1532.7,573.6 L1550.9,579.5 Z" fill="#a9a9a9" stroke="#a9a9a9" stroke-width="0.3"/><path d="M1537.3,566.3 L1554.7,572 L1550.9,576.9 L1532.7,571 Z" fill="#ffffff"/><path d="M1573.2,578.0 L1570.1,583.1 L1570.1,585.7 L1573.2,580.6 Z" fill="#bcbcbc" stroke="#bcbcbc" stroke-width="0.3"/><path d="M1570.1,583.1 L1552.0,577.3 L1552.0,579.9 L1570.1,585.7 Z" fill="#a9a9a9" stroke="#a9a9a9" stroke-width="0.3"/><path d="M1555.8,572.3 L1573.2,578 L1570.1,583.1 L1552,577.3 Z" fill="#ffffff"/><path d="M1549.2,579.0 L1545.3,583.9 L1545.3,586.5 L1549.2,581.6 Z" fill="#bcbcbc" stroke="#bcbcbc" stroke-width="0.3"/><path d="M1545.3,583.9 L1526.1,577.7 L1526.1,580.3 L1545.3,586.5 Z" fill="#a9a9a9" stroke="#a9a9a9" stroke-width="0.3"/><path d="M1530.8,573 L1549.2,579 L1545.3,583.9 L1526.1,577.7 Z" fill="#ffffff"/><path d="M1568.8,585.4 L1565.7,590.5 L1565.7,593.1 L1568.8,588.0 Z" fill="#bcbcbc" stroke="#bcbcbc" stroke-width="0.3"/><path d="M1565.7,590.5 L1546.6,584.3 L1546.6,586.9 L1565.7,593.1 Z" fill="#a9a9a9" stroke="#a9a9a9" stroke-width="0.3"/><path d="M1550.4,579.4 L1568.8,585.4 L1565.7,590.5 L1546.6,584.3 Z" fill="#ffffff"/><path d="M1543.7,586.0 L1539.8,590.9 L1539.8,593.5 L1543.7,588.6 Z" fill="#bcbcbc" stroke="#bcbcbc" stroke-width="0.3"/><path d="M1539.8,590.9 L1519.6,584.3 L1519.6,586.9 L1539.8,593.5 Z" fill="#a9a9a9" stroke="#a9a9a9" stroke-width="0.3"/><path d="M1524.2,579.7 L1543.7,586 L1539.8,590.9 L1519.6,584.3 Z" fill="#ffffff"/><path d="M1564.4,592.8 L1561.3,597.9 L1561.3,600.5 L1564.4,595.4 Z" fill="#bcbcbc" stroke="#bcbcbc" stroke-width="0.3"/><path d="M1561.3,597.9 L1541.1,591.3 L1541.1,593.9 L1561.3,600.5 Z" fill="#a9a9a9" stroke="#a9a9a9" stroke-width="0.3"/><path d="M1544.9,586.4 L1564.4,592.8 L1561.3,597.9 L1541.1,591.3 Z" fill="#ffffff"/><path d="M1538.1,593.0 L1534.3,597.9 L1534.3,600.5 L1538.1,595.6 Z" fill="#bcbcbc" stroke="#bcbcbc" stroke-width="0.3"/><path d="M1534.3,597.9 L1513.0,591.0 L1513.0,593.6 L1534.3,600.5 Z" fill="#a9a9a9" stroke="#a9a9a9" stroke-width="0.3"/><path d="M1517.6,586.3 L1538.1,593 L1534.3,597.9 L1513,591 Z" fill="#ffffff"/><path d="M1560.0,600.2 L1556.9,605.3 L1556.9,607.9 L1560.0,602.8 Z" fill="#bcbcbc" stroke="#bcbcbc" stroke-width="0.3"/><path d="M1556.9,605.3 L1535.6,598.4 L1535.6,601.0 L1556.9,607.9 Z" fill="#a9a9a9" stroke="#a9a9a9" stroke-width="0.3"/><path d="M1539.5,593.5 L1560,600.2 L1556.9,605.3 L1535.6,598.4 Z" fill="#ffffff"/>
<path d="M1611,520 L1657,542 L1640,620 L1559,609 Z" fill="#ececec"/><path d="M1625.4,526.9 L1623.0,531.9 L1623.0,534.5 L1625.4,529.5 Z" fill="#bcbcbc" stroke="#bcbcbc" stroke-width="0.3"/><path d="M1623.0,531.9 L1608.0,525.2 L1608.0,527.8 L1623.0,534.5 Z" fill="#a9a9a9" stroke="#a9a9a9" stroke-width="0.3"/><path d="M1611,520 L1625.4,526.9 L1623,531.9 L1608,525.2 Z" fill="#ffffff"/><path d="M1640.7,534.2 L1639.0,539.0 L1639.0,541.6 L1640.7,536.8 Z" fill="#bcbcbc" stroke="#bcbcbc" stroke-width="0.3"/><path d="M1639.0,539.0 L1624.0,532.3 L1624.0,534.9 L1639.0,541.6 Z" fill="#a9a9a9" stroke="#a9a9a9" stroke-width="0.3"/><path d="M1626.3,527.3 L1640.7,534.2 L1639,539 L1624,532.3 Z" fill="#ffffff"/><path d="M1656.1,541.6 L1655.0,546.1 L1655.0,548.7 L1656.1,544.2 Z" fill="#bcbcbc" stroke="#bcbcbc" stroke-width="0.3"/><path d="M1655.0,546.1 L1640.0,539.4 L1640.0,542.0 L1655.0,548.7 Z" fill="#a9a9a9" stroke="#a9a9a9" stroke-width="0.3"/><path d="M1641.7,534.7 L1656.1,541.6 L1655,546.1 L1640,539.4 Z" fill="#ffffff"/><path d="M1622.0,534.0 L1619.6,539.0 L1619.6,541.6 L1622.0,536.6 Z" fill="#bcbcbc" stroke="#bcbcbc" stroke-width="0.3"/><path d="M1619.6,539.0 L1603.6,532.6 L1603.6,535.2 L1619.6,541.6 Z" fill="#a9a9a9" stroke="#a9a9a9" stroke-width="0.3"/><path d="M1606.7,527.4 L1622,534 L1619.6,539 L1603.6,532.6 Z" fill="#ffffff"/><path d="M1638.3,541.1 L1636.6,545.8 L1636.6,548.4 L1638.3,543.7 Z" fill="#bcbcbc" stroke="#bcbcbc" stroke-width="0.3"/><path d="M1636.6,545.8 L1620.6,539.4 L1620.6,542.0 L1636.6,548.4 Z" fill="#a9a9a9" stroke="#a9a9a9" stroke-width="0.3"/><path d="M1623,534.4 L1638.3,541.1 L1636.6,545.8 L1620.6,539.4 Z" fill="#ffffff"/><path d="M1654.6,548.1 L1653.6,552.6 L1653.6,555.2 L1654.6,550.7 Z" fill="#bcbcbc" stroke="#bcbcbc" stroke-width="0.3"/><path d="M1653.6,552.6 L1637.6,546.2 L1637.6,548.8 L1653.6,555.2 Z" fill="#a9a9a9" stroke="#a9a9a9" stroke-width="0.3"/><path d="M1639.3,541.5 L1654.6,548.1 L1653.6,552.6 L1637.6,546.2 Z" fill="#ffffff"/><path d="M1618.6,541.2 L1616.2,546.1 L1616.2,548.7 L1618.6,543.8 Z" fill="#bcbcbc" stroke="#bcbcbc" stroke-width="0.3"/><path d="M1616.2,546.1 L1599.3,540.0 L1599.3,542.6 L1616.2,548.7 Z" fill="#a9a9a9" stroke="#a9a9a9" stroke-width="0.3"/><path d="M1602.3,534.8 L1618.6,541.2 L1616.2,546.1 L1599.3,540 Z" fill="#ffffff"/><path d="M1635.9,547.9 L1634.1,552.7 L1634.1,555.3 L1635.9,550.5 Z" fill="#bcbcbc" stroke="#bcbcbc" stroke-width="0.3"/><path d="M1634.1,552.7 L1617.3,546.5 L1617.3,549.1 L1634.1,555.3 Z" fill="#a9a9a9" stroke="#a9a9a9" stroke-width="0.3"/><path d="M1619.6,541.6 L1635.9,547.9 L1634.1,552.7 L1617.3,546.5 Z" fill="#ffffff"/><path d="M1653.1,554.6 L1652.1,559.2 L1652.1,561.8 L1653.1,557.2 Z" fill="#bcbcbc" stroke="#bcbcbc" stroke-width="0.3"/><path d="M1652.1,559.2 L1635.2,553.0 L1635.2,555.6 L1652.1,561.8 Z" fill="#a9a9a9" stroke="#a9a9a9" stroke-width="0.3"/><path d="M1636.9,548.3 L1653.1,554.6 L1652.1,559.2 L1635.2,553 Z" fill="#ffffff"/><path d="M1615.2,548.3 L1612.8,553.3 L1612.8,555.9 L1615.2,550.9 Z" fill="#bcbcbc" stroke="#bcbcbc" stroke-width="0.3"/><path d="M1612.8,553.3 L1595.0,547.4 L1595.0,550.0 L1612.8,555.9 Z" fill="#a9a9a9" stroke="#a9a9a9" stroke-width="0.3"/><path d="M1598,542.2 L1615.2,548.3 L1612.8,553.3 L1595,547.4 Z" fill="#ffffff"/><path d="M1633.4,554.7 L1631.7,559.5 L1631.7,562.1 L1633.4,557.3 Z" fill="#bcbcbc" stroke="#bcbcbc" stroke-width="0.3"/><path d="M1631.7,559.5 L1613.9,553.6 L1613.9,556.2 L1631.7,562.1 Z" fill="#a9a9a9" stroke="#a9a9a9" stroke-width="0.3"/><path d="M1616.2,548.7 L1633.4,554.7 L1631.7,559.5 L1613.9,553.6 Z" fill="#ffffff"/><path d="M1651.7,561.1 L1650.6,565.7 L1650.6,568.3 L1651.7,563.7 Z" fill="#bcbcbc" stroke="#bcbcbc" stroke-width="0.3"/><path d="M1650.6,565.7 L1632.8,559.8 L1632.8,562.4 L1650.6,568.3 Z" fill="#a9a9a9" stroke="#a9a9a9" stroke-width="0.3"/><path d="M1634.5,555.1 L1651.7,561.1 L1650.6,565.7 L1632.8,559.8 Z" fill="#ffffff"/><path d="M1611.7,555.4 L1609.3,560.4 L1609.3,563.0 L1611.7,558.0 Z" fill="#bcbcbc" stroke="#bcbcbc" stroke-width="0.3"/><path d="M1609.3,560.4 L1590.6,554.9 L1590.6,557.5 L1609.3,563.0 Z" fill="#a9a9a9" stroke="#a9a9a9" stroke-width="0.3"/><path d="M1593.7,549.7 L1611.7,555.4 L1609.3,560.4 L1590.6,554.9 Z" fill="#ffffff"/><path d="M1631.0,561.5 L1629.2,566.3 L1629.2,568.9 L1631.0,564.1 Z" fill="#bcbcbc" stroke="#bcbcbc" stroke-width="0.3"/><path d="M1629.2,566.3 L1610.5,560.8 L1610.5,563.4 L1629.2,568.9 Z" fill="#a9a9a9" stroke="#a9a9a9" stroke-width="0.3"/><path d="M1612.9,555.8 L1631,561.5 L1629.2,566.3 L1610.5,560.8 Z" fill="#ffffff"/><path d="M1650.2,567.6 L1649.1,572.2 L1649.1,574.8 L1650.2,570.2 Z" fill="#bcbcbc" stroke="#bcbcbc" stroke-width="0.3"/><path d="M1649.1,572.2 L1630.4,566.7 L1630.4,569.3 L1649.1,574.8 Z" fill="#a9a9a9" stroke="#a9a9a9" stroke-width="0.3"/><path d="M1632.1,561.9 L1650.2,567.6 L1649.1,572.2 L1630.4,566.7 Z" fill="#ffffff"/><path d="M1608.3,562.5 L1605.9,567.5 L1605.9,570.1 L1608.3,565.1 Z" fill="#bcbcbc" stroke="#bcbcbc" stroke-width="0.3"/><path d="M1605.9,567.5 L1586.3,562.3 L1586.3,564.9 L1605.9,570.1 Z" fill="#a9a9a9" stroke="#a9a9a9" stroke-width="0.3"/><path d="M1589.3,557.1 L1608.3,562.5 L1605.9,567.5 L1586.3,562.3 Z" fill="#ffffff"/><path d="M1628.5,568.3 L1626.8,573.1 L1626.8,575.7 L1628.5,570.9 Z" fill="#bcbcbc" stroke="#bcbcbc" stroke-width="0.3"/><path d="M1626.8,573.1 L1607.2,567.9 L1607.2,570.5 L1626.8,575.7 Z" fill="#a9a9a9" stroke="#a9a9a9" stroke-width="0.3"/><path d="M1609.5,562.9 L1628.5,568.3 L1626.8,573.1 L1607.2,567.9 Z" fill="#ffffff"/><path d="M1648.7,574.2 L1647.7,578.7 L1647.7,581.3 L1648.7,576.8 Z" fill="#bcbcbc" stroke="#bcbcbc" stroke-width="0.3"/><path d="M1647.7,578.7 L1628.0,573.5 L1628.0,576.1 L1647.7,581.3 Z" fill="#a9a9a9" stroke="#a9a9a9" stroke-width="0.3"/><path d="M1629.7,568.7 L1648.7,574.2 L1647.7,578.7 L1628,573.5 Z" fill="#ffffff"/><path d="M1604.9,569.7 L1602.5,574.7 L1602.5,577.3 L1604.9,572.3 Z" fill="#bcbcbc" stroke="#bcbcbc" stroke-width="0.3"/><path d="M1602.5,574.7 L1582.0,569.7 L1582.0,572.3 L1602.5,577.3 Z" fill="#a9a9a9" stroke="#a9a9a9" stroke-width="0.3"/><path d="M1585,564.5 L1604.9,569.7 L1602.5,574.7 L1582,569.7 Z" fill="#ffffff"/><path d="M1626.1,575.2 L1624.4,579.9 L1624.4,582.5 L1626.1,577.8 Z" fill="#bcbcbc" stroke="#bcbcbc" stroke-width="0.3"/><path d="M1624.4,579.9 L1603.8,575.0 L1603.8,577.6 L1624.4,582.5 Z" fill="#a9a9a9" stroke="#a9a9a9" stroke-width="0.3"/><path d="M1606.2,570 L1626.1,575.2 L1624.4,579.9 L1603.8,575 Z" fill="#ffffff"/><path d="M1647.2,580.7 L1646.2,585.2 L1646.2,587.8 L1647.2,583.3 Z" fill="#bcbcbc" stroke="#bcbcbc" stroke-width="0.3"/><path d="M1646.2,585.2 L1625.7,580.3 L1625.7,582.9 L1646.2,587.8 Z" fill="#a9a9a9" stroke="#a9a9a9" stroke-width="0.3"/><path d="M1627.3,575.5 L1647.2,580.7 L1646.2,585.2 L1625.7,580.3 Z" fill="#ffffff"/><path d="M1601.5,576.8 L1599.1,581.8 L1599.1,584.4 L1601.5,579.4 Z" fill="#bcbcbc" stroke="#bcbcbc" stroke-width="0.3"/><path d="M1599.1,581.8 L1577.6,577.1 L1577.6,579.7 L1599.1,584.4 Z" fill="#a9a9a9" stroke="#a9a9a9" stroke-width="0.3"/><path d="M1580.7,571.9 L1601.5,576.8 L1599.1,581.8 L1577.6,577.1 Z" fill="#ffffff"/><path d="M1623.6,582.0 L1621.9,586.8 L1621.9,589.4 L1623.6,584.6 Z" fill="#bcbcbc" stroke="#bcbcbc" stroke-width="0.3"/><path d="M1621.9,586.8 L1600.5,582.1 L1600.5,584.7 L1621.9,589.4 Z" fill="#a9a9a9" stroke="#a9a9a9" stroke-width="0.3"/><path d="M1602.8,577.1 L1623.6,582 L1621.9,586.8 L1600.5,582.1 Z" fill="#ffffff"/><path d="M1645.8,587.2 L1644.7,591.8 L1644.7,594.4 L1645.8,589.8 Z" fill="#bcbcbc" stroke="#bcbcbc" stroke-width="0.3"/><path d="M1644.7,591.8 L1623.3,587.1 L1623.3,589.7 L1644.7,594.4 Z" fill="#a9a9a9" stroke="#a9a9a9" stroke-width="0.3"/><path d="M1624.9,582.3 L1645.8,587.2 L1644.7,591.8 L1623.3,587.1 Z" fill="#ffffff"/><path d="M1598.1,583.9 L1595.7,588.9 L1595.7,591.5 L1598.1,586.5 Z" fill="#bcbcbc" stroke="#bcbcbc" stroke-width="0.3"/><path d="M1595.7,588.9 L1573.3,584.5 L1573.3,587.1 L1595.7,591.5 Z" fill="#a9a9a9" stroke="#a9a9a9" stroke-width="0.3"/><path d="M1576.3,579.3 L1598.1,583.9 L1595.7,588.9 L1573.3,584.5 Z" fill="#ffffff"/><path d="M1621.2,588.8 L1619.5,593.6 L1619.5,596.2 L1621.2,591.4 Z" fill="#bcbcbc" stroke="#bcbcbc" stroke-width="0.3"/><path d="M1619.5,593.6 L1597.1,589.2 L1597.1,591.8 L1619.5,596.2 Z" fill="#a9a9a9" stroke="#a9a9a9" stroke-width="0.3"/><path d="M1599.4,584.2 L1621.2,588.8 L1619.5,593.6 L1597.1,589.2 Z" fill="#ffffff"/><path d="M1644.3,593.7 L1643.2,598.3 L1643.2,600.9 L1644.3,596.3 Z" fill="#bcbcbc" stroke="#bcbcbc" stroke-width="0.3"/><path d="M1643.2,598.3 L1620.9,593.9 L1620.9,596.5 L1643.2,600.9 Z" fill="#a9a9a9" stroke="#a9a9a9" stroke-width="0.3"/><path d="M1622.6,589.1 L1644.3,593.7 L1643.2,598.3 L1620.9,593.9 Z" fill="#ffffff"/><path d="M1594.6,591.1 L1592.2,596.0 L1592.2,598.6 L1594.6,593.7 Z" fill="#bcbcbc" stroke="#bcbcbc" stroke-width="0.3"/><path d="M1592.2,596.0 L1569.0,591.9 L1569.0,594.5 L1592.2,598.6 Z" fill="#a9a9a9" stroke="#a9a9a9" stroke-width="0.3"/><path d="M1572,586.8 L1594.6,591.1 L1592.2,596 L1569,591.9 Z" fill="#ffffff"/><path d="M1618.7,595.6 L1617.0,600.4 L1617.0,603.0 L1618.7,598.2 Z" fill="#bcbcbc" stroke="#bcbcbc" stroke-width="0.3"/><path d="M1617.0,600.4 L1593.7,596.3 L1593.7,598.9 L1617.0,603.0 Z" fill="#a9a9a9" stroke="#a9a9a9" stroke-width="0.3"/><path d="M1596.1,591.3 L1618.7,595.6 L1617,600.4 L1593.7,596.3 Z" fill="#ffffff"/><path d="M1642.8,600.2 L1641.8,604.8 L1641.8,607.4 L1642.8,602.8 Z" fill="#bcbcbc" stroke="#bcbcbc" stroke-width="0.3"/><path d="M1641.8,604.8 L1618.5,600.7 L1618.5,603.3 L1641.8,607.4 Z" fill="#a9a9a9" stroke="#a9a9a9" stroke-width="0.3"/><path d="M1620.2,595.9 L1642.8,600.2 L1641.8,604.8 L1618.5,600.7 Z" fill="#ffffff"/><path d="M1591.2,598.2 L1588.8,603.2 L1588.8,605.8 L1591.2,600.8 Z" fill="#bcbcbc" stroke="#bcbcbc" stroke-width="0.3"/><path d="M1588.8,603.2 L1564.6,599.4 L1564.6,602.0 L1588.8,605.8 Z" fill="#a9a9a9" stroke="#a9a9a9" stroke-width="0.3"/><path d="M1567.7,594.2 L1591.2,598.2 L1588.8,603.2 L1564.6,599.4 Z" fill="#ffffff"/><path d="M1616.3,602.5 L1614.6,607.2 L1614.6,609.8 L1616.3,605.1 Z" fill="#bcbcbc" stroke="#bcbcbc" stroke-width="0.3"/><path d="M1614.6,607.2 L1590.4,603.4 L1590.4,606.0 L1614.6,609.8 Z" fill="#a9a9a9" stroke="#a9a9a9" stroke-width="0.3"/><path d="M1592.7,598.4 L1616.3,602.5 L1614.6,607.2 L1590.4,603.4 Z" fill="#ffffff"/><path d="M1641.3,606.7 L1640.3,611.3 L1640.3,613.9 L1641.3,609.3 Z" fill="#bcbcbc" stroke="#bcbcbc" stroke-width="0.3"/><path d="M1640.3,611.3 L1616.1,607.5 L1616.1,610.1 L1640.3,613.9 Z" fill="#a9a9a9" stroke="#a9a9a9" stroke-width="0.3"/><path d="M1617.8,602.7 L1641.3,606.7 L1640.3,611.3 L1616.1,607.5 Z" fill="#ffffff"/><path d="M1587.8,605.3 L1585.4,610.3 L1585.4,612.9 L1587.8,607.9 Z" fill="#bcbcbc" stroke="#bcbcbc" stroke-width="0.3"/><path d="M1585.4,610.3 L1560.3,606.8 L1560.3,609.4 L1585.4,612.9 Z" fill="#a9a9a9" stroke="#a9a9a9" stroke-width="0.3"/><path d="M1563.3,601.6 L1587.8,605.3 L1585.4,610.3 L1560.3,606.8 Z" fill="#ffffff"/><path d="M1613.8,609.3 L1612.1,614.1 L1612.1,616.7 L1613.8,611.9 Z" fill="#bcbcbc" stroke="#bcbcbc" stroke-width="0.3"/><path d="M1612.1,614.1 L1587.0,610.5 L1587.0,613.1 L1612.1,616.7 Z" fill="#a9a9a9" stroke="#a9a9a9" stroke-width="0.3"/><path d="M1589.4,605.6 L1613.8,609.3 L1612.1,614.1 L1587,610.5 Z" fill="#ffffff"/><path d="M1639.9,613.3 L1638.8,617.8 L1638.8,620.4 L1639.9,615.9 Z" fill="#bcbcbc" stroke="#bcbcbc" stroke-width="0.3"/><path d="M1638.8,617.8 L1613.7,614.3 L1613.7,616.9 L1638.8,620.4 Z" fill="#a9a9a9" stroke="#a9a9a9" stroke-width="0.3"/><path d="M1615.4,609.5 L1639.9,613.3 L1638.8,617.8 L1613.7,614.3 Z" fill="#ffffff"/>
<path d="M1697,557 L1733,572 L1689,627 L1657,614 Z" fill="#ececec"/><path d="M1713.9,564.0 L1710.3,569.0 L1710.3,571.6 L1713.9,566.6 Z" fill="#bcbcbc" stroke="#bcbcbc" stroke-width="0.3"/><path d="M1710.3,569.0 L1693.5,562.0 L1693.5,564.6 L1710.3,571.6 Z" fill="#a9a9a9" stroke="#a9a9a9" stroke-width="0.3"/><path d="M1697,557 L1713.9,564 L1710.3,569 L1693.5,562 Z" fill="#ffffff"/><path d="M1731.9,571.6 L1728.1,576.4 L1728.1,579.0 L1731.9,574.2 Z" fill="#bcbcbc" stroke="#bcbcbc" stroke-width="0.3"/><path d="M1728.1,576.4 L1711.3,569.4 L1711.3,572.0 L1728.1,579.0 Z" fill="#a9a9a9" stroke="#a9a9a9" stroke-width="0.3"/><path d="M1715,564.5 L1731.9,571.6 L1728.1,576.4 L1711.3,569.4 Z" fill="#ffffff"/><path d="M1708.7,571.1 L1705.0,576.0 L1705.0,578.6 L1708.7,573.7 Z" fill="#bcbcbc" stroke="#bcbcbc" stroke-width="0.3"/><path d="M1705.0,576.0 L1688.5,569.1 L1688.5,571.7 L1705.0,578.6 Z" fill="#a9a9a9" stroke="#a9a9a9" stroke-width="0.3"/><path d="M1692,564.1 L1708.7,571.1 L1705,576 L1688.5,569.1 Z" fill="#ffffff"/><path d="M1726.4,578.4 L1722.6,583.3 L1722.6,585.9 L1726.4,581.0 Z" fill="#bcbcbc" stroke="#bcbcbc" stroke-width="0.3"/><path d="M1722.6,583.3 L1706.1,576.4 L1706.1,579.0 L1722.6,585.9 Z" fill="#a9a9a9" stroke="#a9a9a9" stroke-width="0.3"/><path d="M1709.8,571.5 L1726.4,578.4 L1722.6,583.3 L1706.1,576.4 Z" fill="#ffffff"/><path d="M1703.5,578.1 L1699.8,583.0 L1699.8,585.6 L1703.5,580.7 Z" fill="#bcbcbc" stroke="#bcbcbc" stroke-width="0.3"/><path d="M1699.8,583.0 L1683.5,576.2 L1683.5,578.8 L1699.8,585.6 Z" fill="#a9a9a9" stroke="#a9a9a9" stroke-width="0.3"/><path d="M1687,571.2 L1703.5,578.1 L1699.8,583 L1683.5,576.2 Z" fill="#ffffff"/><path d="M1721.0,585.3 L1717.1,590.1 L1717.1,592.7 L1721.0,587.9 Z" fill="#bcbcbc" stroke="#bcbcbc" stroke-width="0.3"/><path d="M1717.1,590.1 L1700.8,583.4 L1700.8,586.0 L1717.1,592.7 Z" fill="#a9a9a9" stroke="#a9a9a9" stroke-width="0.3"/><path d="M1704.5,578.5 L1721,585.3 L1717.1,590.1 L1700.8,583.4 Z" fill="#ffffff"/><path d="M1698.2,585.1 L1694.6,590.0 L1694.6,592.6 L1698.2,587.7 Z" fill="#bcbcbc" stroke="#bcbcbc" stroke-width="0.3"/><path d="M1694.6,590.0 L1678.5,583.4 L1678.5,586.0 L1694.6,592.6 Z" fill="#a9a9a9" stroke="#a9a9a9" stroke-width="0.3"/><path d="M1682,578.4 L1698.2,585.1 L1694.6,590 L1678.5,583.4 Z" fill="#ffffff"/><path d="M1715.5,592.2 L1711.6,597.0 L1711.6,599.6 L1715.5,594.8 Z" fill="#bcbcbc" stroke="#bcbcbc" stroke-width="0.3"/><path d="M1711.6,597.0 L1695.6,590.4 L1695.6,593.0 L1711.6,599.6 Z" fill="#a9a9a9" stroke="#a9a9a9" stroke-width="0.3"/><path d="M1699.2,585.5 L1715.5,592.2 L1711.6,597 L1695.6,590.4 Z" fill="#ffffff"/><path d="M1693.0,592.1 L1689.3,597.0 L1689.3,599.6 L1693.0,594.7 Z" fill="#bcbcbc" stroke="#bcbcbc" stroke-width="0.3"/><path d="M1689.3,597.0 L1673.5,590.5 L1673.5,593.1 L1689.3,599.6 Z" fill="#a9a9a9" stroke="#a9a9a9" stroke-width="0.3"/><path d="M1677,585.5 L1693,592.1 L1689.3,597 L1673.5,590.5 Z" fill="#ffffff"/><path d="M1710.0,599.1 L1706.1,603.9 L1706.1,606.5 L1710.0,601.7 Z" fill="#bcbcbc" stroke="#bcbcbc" stroke-width="0.3"/><path d="M1706.1,603.9 L1690.3,597.4 L1690.3,600.0 L1706.1,606.5 Z" fill="#a9a9a9" stroke="#a9a9a9" stroke-width="0.3"/><path d="M1694,592.5 L1710,599.1 L1706.1,603.9 L1690.3,597.4 Z" fill="#ffffff"/><path d="M1687.7,599.1 L1684.1,604.0 L1684.1,606.6 L1687.7,601.7 Z" fill="#bcbcbc" stroke="#bcbcbc" stroke-width="0.3"/><path d="M1684.1,604.0 L1668.5,597.6 L1668.5,600.2 L1684.1,606.6 Z" fill="#a9a9a9" stroke="#a9a9a9" stroke-width="0.3"/><path d="M1672,592.6 L1687.7,599.1 L1684.1,604 L1668.5,597.6 Z" fill="#ffffff"/><path d="M1704.5,606.0 L1700.7,610.8 L1700.7,613.4 L1704.5,608.6 Z" fill="#bcbcbc" stroke="#bcbcbc" stroke-width="0.3"/><path d="M1700.7,610.8 L1685.1,604.4 L1685.1,607.0 L1700.7,613.4 Z" fill="#a9a9a9" stroke="#a9a9a9" stroke-width="0.3"/><path d="M1688.8,599.5 L1704.5,606 L1700.7,610.8 L1685.1,604.4 Z" fill="#ffffff"/><path d="M1682.5,606.1 L1678.8,611.0 L1678.8,613.6 L1682.5,608.7 Z" fill="#bcbcbc" stroke="#bcbcbc" stroke-width="0.3"/><path d="M1678.8,611.0 L1663.5,604.7 L1663.5,607.3 L1678.8,613.6 Z" fill="#a9a9a9" stroke="#a9a9a9" stroke-width="0.3"/><path d="M1667,599.8 L1682.5,606.1 L1678.8,611 L1663.5,604.7 Z" fill="#ffffff"/><path d="M1699.0,612.8 L1695.2,617.7 L1695.2,620.3 L1699.0,615.4 Z" fill="#bcbcbc" stroke="#bcbcbc" stroke-width="0.3"/><path d="M1695.2,617.7 L1679.8,611.4 L1679.8,614.0 L1695.2,620.3 Z" fill="#a9a9a9" stroke="#a9a9a9" stroke-width="0.3"/><path d="M1683.5,606.5 L1699,612.8 L1695.2,617.7 L1679.8,611.4 Z" fill="#ffffff"/><path d="M1677.3,613.1 L1673.6,618.0 L1673.6,620.6 L1677.3,615.7 Z" fill="#bcbcbc" stroke="#bcbcbc" stroke-width="0.3"/><path d="M1673.6,618.0 L1658.5,611.9 L1658.5,614.5 L1673.6,620.6 Z" fill="#a9a9a9" stroke="#a9a9a9" stroke-width="0.3"/><path d="M1662,606.9 L1677.3,613.1 L1673.6,618 L1658.5,611.9 Z" fill="#ffffff"/><path d="M1693.5,619.7 L1689.7,624.5 L1689.7,627.1 L1693.5,622.3 Z" fill="#bcbcbc" stroke="#bcbcbc" stroke-width="0.3"/><path d="M1689.7,624.5 L1674.6,618.4 L1674.6,621.0 L1689.7,627.1 Z" fill="#a9a9a9" stroke="#a9a9a9" stroke-width="0.3"/><path d="M1678.2,613.5 L1693.5,619.7 L1689.7,624.5 L1674.6,618.4 Z" fill="#ffffff"/>
<path d="M790,127 L1067.7,127 L1067.7,180.6 L1043.6,207.9 L1027.2,188.4 L790,188.4 Z" fill="#4267a8"/><text x="844.5" y="165.3" font-size="18.5" fill="#f4f7fc" textLength="172.7" lengthAdjust="spacingAndGlyphs">ÁREA A PRESERVAR</text>
<path d="M1156,144.3 L1430.8,144.3 L1430.8,206.2 L1194.4,206.2 L1175,225.6 L1156,207.8 Z" fill="#4267a8"/><text x="1200.7" y="182.1" font-size="19" fill="#f4f7fc" textLength="176.5" lengthAdjust="spacingAndGlyphs">NÚCLEO ADERENTE</text>
<path d="M465.2,305 L709.4,305 L709.4,366.5 L512.4,366.5 L493.5,386.5 L465.2,359.7 Z" fill="#4267a8"/><text x="495" y="342.3" font-size="19" fill="#f4f7fc" textLength="182.2" lengthAdjust="spacingAndGlyphs">NÚCLEO POTENCIAL</text>
<path d="M53.2,433 L308.6,433 L328,413.7 L356.5,441.6 L356.5,494.6 L53.2,494.6 Z" fill="#4267a8"/><text x="87.6" y="472.7" font-size="20" fill="#f4f7fc" textLength="233.8" lengthAdjust="spacingAndGlyphs">NÚCLEO COMPLEMENTAR</text>
<path d="M993.5,406.1 L1183.9,406.1 L1183.9,438.6 L1019.3,438.6 L1008.5,449.5 L993.5,434.3 Z" fill="#4267a8"/><text x="1020.5" y="427.5" font-size="14.5" fill="#f4f7fc" textLength="132.3" lengthAdjust="spacingAndGlyphs">NÚCLEO ADERENTE</text>
<path d="M939.3,648.5 L963.3,621.6 L980.2,640.9 L1178.7,640.9 L1178.7,702.9 L939.3,702.9 Z" fill="#4267a8"/><text x="984.6" y="680.7" font-size="19.5" fill="#f4f7fc" textLength="138.6" lengthAdjust="spacingAndGlyphs">PARQUE LINEAR</text>
<g fill="none" stroke="#4f6fab" stroke-width="1.2" stroke-linejoin="round"><path d="M297.2,352.6 Q297.2,348.6 301.2,348.6 L307.6,348.6 Q311.6,348.6 311.6,352.6 L311.6,361.5 Q311.6,363.5 309.6,363.5 L310.2,363.5 L310.2,377.4 Q310.2,378.4 309.2,378.4 L301.5,378.4 Q300.5,378.4 300.5,377.4 L300.5,363.5 L299.2,363.5 Q297.2,363.5 297.2,361.5 Z"/><circle cx="305.6" cy="339.9" r="5.6"/><path d="M330.4,352.1 Q330.4,348.1 334.4,348.1 L340.8,348.1 Q344.8,348.1 344.8,352.1 L344.8,361 Q344.8,363 342.8,363 L341,363 L341,377.4 Q341,378.4 340,378.4 L332.8,378.4 Q331.8,378.4 331.8,377.4 L331.8,363 L332.4,363 Q330.4,363 330.4,361 Z"/><circle cx="336.4" cy="339.9" r="5.7"/><path d="M312,350.7 Q312,346.7 316,346.7 L326.4,346.7 Q330.4,346.7 330.4,350.7 L330.4,362.5 Q330.4,364.5 328.4,364.5 L327.5,364.5 L327.5,380.3 Q327.5,381.3 326.5,381.3 L317,381.3 Q316,381.3 316,380.3 L316,364.5 L314,364.5 Q312,364.5 312,362.5 Z"/><circle cx="320.5" cy="338" r="6"/></g>
<g fill="none" stroke="#4f6fab" stroke-width="1.2" stroke-linejoin="round"><path d="M1535.4,423 Q1535.4,419 1539.4,419 L1545.3,419 Q1549.3,419 1549.3,423 L1549.3,431.9 Q1549.3,433.9 1547.3,433.9 L1548,433.9 L1548,448.2 Q1548,449.2 1547,449.2 L1540.2,449.2 Q1539.2,449.2 1539.2,448.2 L1539.2,433.9 L1537.4,433.9 Q1535.4,433.9 1535.4,431.9 Z"/><circle cx="1543.6" cy="411" r="5.6"/><path d="M1569.5,423 Q1569.5,419 1573.5,419 L1579.4,419 Q1583.4,419 1583.4,423 L1583.4,431.9 Q1583.4,433.9 1581.4,433.9 L1579.6,433.9 L1579.6,448.2 Q1579.6,449.2 1578.6,449.2 L1571.2,449.2 Q1570.2,449.2 1570.2,448.2 L1570.2,433.9 L1571.5,433.9 Q1569.5,433.9 1569.5,431.9 Z"/><circle cx="1574.7" cy="411" r="5.6"/><path d="M1550,422 Q1550,418 1554,418 L1564.4,418 Q1568.4,418 1568.4,422 L1568.4,432.6 Q1568.4,434.6 1566.4,434.6 L1564.6,434.6 L1564.6,451 Q1564.6,452 1563.6,452 L1554.5,452 Q1553.5,452 1553.5,451 L1553.5,434.6 L1552,434.6 Q1550,434.6 1550,432.6 Z"/><circle cx="1559" cy="409.2" r="6.1"/></g>
<g fill="none" stroke="#5070aa" stroke-width="1"><path d="M256.7,411.1 L258.2,370.2 L263,370.2 L265.4,395.3 L281.3,387.1 L281.8,395.3 L297.6,387.1 L297.6,411.1 Z"/><rect x="261.5" y="401.5" width="7.3" height="5.8"/><rect x="273.6" y="401.5" width="7.2" height="5.8"/><rect x="285.6" y="401.5" width="7.2" height="5.8"/></g>
<path d="M479.5,416.6 L495.6,416.6 L489.6,437.2 L500.1,437.2 L476.9,470.9 L485.1,445.1 L474.2,445.1 Z" fill="none" stroke="#4f6fab" stroke-width="1.3" stroke-linejoin="miter"/>
<g stroke="#4468a8" fill="none" stroke-width="1.6" stroke-linecap="round"><path d="M885.6,391 L886.2,384.3 L893.2,384.3 L893.8,391 M888.3,384.5 L888.3,390.5 M891.1,384.5 L891.1,390.5"/><path d="M884,393.5 L875.8,432.4 M895.6,393.5 L903.6,432.4" stroke-width="2"/><path d="M884,394 L897.6,405 M895.6,394 L881.8,405 M881.8,405 L898.6,416.7 M897.6,405 L880,416.7 M880,416.7 L901.5,425.6 M899.4,416.7 L877.6,425.6 M882,405 L897.6,405 M880,416.7 L899.6,416.7" stroke-width="1.3"/></g><rect x="879.3" y="389.9" width="20.8" height="3.4" rx="1.7" fill="#4468a8"/>
<g><path d="M958,273.4 L983,273.4 L983,279.6 L974.3,279.6 L974.3,299.8 L1005.9,294.6 L1005.9,296.2 L983,301.6 L983,307.6 L958,307.6 L958,299.6 L965.6,299.6 L965.6,279.6 L958,279.6 Z" fill="#4267a8"/><path d="M983,273.4 L1005.9,275.4 L1005.9,279.6 L983,279.6 Z M983,301.8 L1005.9,295.8 L1005.9,299.8 L983,307.4 Z M999.3,279.6 L999.3,296" fill="#fff" stroke="#4267a8" stroke-width="0.8"/></g>
<g fill="none" stroke="#5070aa" stroke-width="1.2"><rect x="880.1" y="528.4" width="15.3" height="33.4" rx="2.8"/><rect x="884.4" y="523.8" width="6.8" height="3.8"/><path d="M885.4,523.6 L886.4,520.2 L889,520.2 L890,523.6"/><path d="M887.6,519.8 L887.6,514.5 Q887.6,511.2 891,511.2 L905,511.2 Q908.2,511.2 908.2,514.5 L908.2,549.5 Q908.2,553.6 912.4,553.6 Q916.8,553.6 916.8,549.5 L916.8,536"/><path d="M883.6,545 L883.6,558 L888.3,558"/></g>
<g fill="none" stroke="#5070aa" stroke-width="1.2"><rect x="1081.6" y="477.2" width="41" height="22.9" rx="0.8"/><path d="M1081.6,477.2 L1085,470.4 L1118.8,470.4 L1122.6,477.2"/><path d="M1086.1,462.3 L1118.1,462.3 M1086.1,467 L1118.1,467 M1091.4,459.1 L1091.4,474.2 M1101.9,459.1 L1101.9,474.2 M1112.8,459.1 L1112.8,474.2"/></g><g fill="#5070aa"><circle cx="1086" cy="481.5" r="0.5"/><circle cx="1094" cy="483.5" r="0.5"/><circle cx="1099" cy="485" r="0.5"/><circle cx="1112" cy="482" r="0.5"/><circle cx="1116" cy="481.5" r="0.5"/><circle cx="1086" cy="490" r="0.5"/><circle cx="1092" cy="494" r="0.5"/><circle cx="1099" cy="494" r="0.5"/><circle cx="1109" cy="495" r="0.5"/><circle cx="1113" cy="490" r="0.5"/><circle cx="1118" cy="493" r="0.5"/></g>
<path d="M88.5,197 L353.3,197 L353.3,297 L325,326.5 L304.9,307.4 L88.5,307.4 Z" fill="rgba(255,255,255,0.84)" stroke="#6482b6" stroke-width="1.1"/>
<text x="115.7" y="242.0" font-size="15.2" fill="#5070aa" text-anchor="start" textLength="185.3" lengthAdjust="spacingAndGlyphs">Serviços complementares,</text><text x="115.7" y="259.8" font-size="15.2" fill="#5070aa" text-anchor="start" textLength="210.9" lengthAdjust="spacingAndGlyphs">refeições coletivas, transporte</text><text x="115.7" y="277.6" font-size="15.2" fill="#5070aa" text-anchor="start" textLength="180.4" lengthAdjust="spacingAndGlyphs">coletivo, saúde e resíduos</text>
<path d="M1528.8,261 L1754.8,261 L1754.8,372.6 L1577.8,372.6 L1557.7,391.3 L1528.8,364.5 Z" fill="rgba(255,255,255,0.8)" stroke="#6482b6" stroke-width="1.1"/>
<text x="1563.6" y="303.0" font-size="15.2" fill="#5070aa" text-anchor="start" textLength="98.4" lengthAdjust="spacingAndGlyphs">Infraestrutura</text><text x="1563.6" y="320.8" font-size="15.2" fill="#5070aa" text-anchor="start" textLength="121.2" lengthAdjust="spacingAndGlyphs">de Ampliação do</text><text x="1563.6" y="338.6" font-size="15.2" fill="#5070aa" text-anchor="start" textLength="146.5" lengthAdjust="spacingAndGlyphs">Ecoparque Industrial</text>
<text x="243.8" y="389.1" font-size="11.5" fill="#5070aa" text-anchor="end" textLength="111.6" lengthAdjust="spacingAndGlyphs">Módulos industriais e</text><text x="243.8" y="402.7" font-size="11.5" fill="#5070aa" text-anchor="end" textLength="84.8" lengthAdjust="spacingAndGlyphs">recuperação de</text><text x="243.8" y="416.3" font-size="11.5" fill="#5070aa" text-anchor="end" textLength="75.8" lengthAdjust="spacingAndGlyphs">equipamentos</text>
<text x="460.7" y="434.0" font-size="11.5" fill="#5070aa" text-anchor="end" textLength="75.7" lengthAdjust="spacingAndGlyphs">Fabricação de</text><text x="460.7" y="447.9" font-size="11.5" fill="#5070aa" text-anchor="end" textLength="89.8" lengthAdjust="spacingAndGlyphs">motores elétricos</text><text x="460.7" y="461.8" font-size="11.5" fill="#5070aa" text-anchor="end" textLength="69.3" lengthAdjust="spacingAndGlyphs">e de baterias</text>
<text x="865" y="398.6" font-size="10.8" fill="#5070aa" text-anchor="end" textLength="53.9" lengthAdjust="spacingAndGlyphs">Estruturas</text><text x="865" y="412.6" font-size="10.8" fill="#5070aa" text-anchor="end" textLength="51.1" lengthAdjust="spacingAndGlyphs">metálicas</text>
<text x="1019" y="277.8" font-size="10.5" fill="#5070aa" text-anchor="start" textLength="27.9" lengthAdjust="spacingAndGlyphs">Perfis</text><text x="1019" y="291.8" font-size="10.5" fill="#5070aa" text-anchor="start" textLength="57.3" lengthAdjust="spacingAndGlyphs">Laminados</text><text x="1019" y="305.8" font-size="10.5" fill="#5070aa" text-anchor="start" textLength="36.5" lengthAdjust="spacingAndGlyphs">de Aço</text>
<text x="929.1" y="534.8" font-size="11" fill="#5070aa" text-anchor="start" textLength="46.1" lengthAdjust="spacingAndGlyphs">UTE Gás</text><text x="929.1" y="548.7" font-size="11" fill="#5070aa" text-anchor="start" textLength="39.7" lengthAdjust="spacingAndGlyphs">Natural</text>
<text x="1070.7" y="476.8" font-size="11.2" fill="#5070aa" text-anchor="end" textLength="78.8" lengthAdjust="spacingAndGlyphs">Pré-fabricados</text><text x="1070.7" y="490.7" font-size="11.2" fill="#5070aa" text-anchor="end" textLength="61.3" lengthAdjust="spacingAndGlyphs">em cimento</text>
<text x="0" y="0" font-size="26.5" font-weight="bold" fill="#3f67ad" transform="translate(835.4,856.2) rotate(28.8)" textLength="91.5" lengthAdjust="spacingAndGlyphs">DUTRA</text>
<rect x="1920" y="0" width="9" height="935" fill="#000"/>
</svg></body></html>
